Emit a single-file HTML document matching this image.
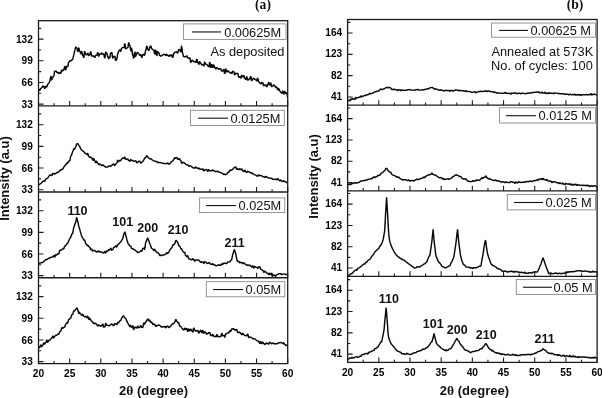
<!DOCTYPE html>
<html lang="en"><head><meta charset="utf-8"><title>XRD patterns</title>
<style>html,body{margin:0;padding:0;background:#fff}svg{display:block;will-change:transform;opacity:0.999}</style></head>
<body>
<svg width="602" height="398" viewBox="0 0 602 398">
<rect width="602" height="398" fill="#fff"/>
<clipPath id="cl"><rect x="38.5" y="20.7" width="249.20" height="342.90"/></clipPath>
<clipPath id="cr"><rect x="347.6" y="19.5" width="249.50" height="342.90"/></clipPath>
<g clip-path="url(#cl)">
<polyline points="38.5,89.9 39.0,89.5 39.5,90.5 40.0,90.2 40.5,88.6 41.0,88.3 41.5,87.9 42.0,87.5 42.5,86.2 43.0,85.9 43.5,86.8 44.0,86.4 44.5,88.4 45.0,88.1 45.5,86.6 46.0,86.2 46.5,87.0 47.0,86.6 47.5,84.8 48.0,84.1 48.5,83.6 49.0,82.8 49.5,81.7 50.0,81.0 50.5,77.1 51.0,76.3 51.5,79.9 52.0,79.1 52.5,77.8 53.0,77.0 53.5,76.2 54.0,75.6 54.5,71.5 55.0,71.3 55.5,71.1 56.0,70.9 56.5,72.2 57.0,72.0 57.5,72.6 58.0,72.4 58.5,73.6 59.0,73.4 59.5,72.7 60.0,72.5 60.5,73.3 61.0,73.0 61.5,70.5 62.0,69.9 62.5,70.9 63.0,70.4 63.5,69.9 64.0,69.3 64.5,66.9 65.0,66.4 65.5,69.8 66.0,69.2 66.5,66.7 67.0,66.1 67.5,66.6 68.0,66.0 68.5,62.4 69.0,61.9 69.5,61.2 70.0,60.7 70.5,60.9 71.0,60.4 71.5,60.3 72.0,59.6 72.5,59.8 73.0,58.2 73.5,55.9 74.0,54.2 74.5,51.4 75.0,49.7 75.5,47.6 76.0,47.1 76.5,47.9 77.0,48.1 77.5,51.2 78.0,51.4 78.5,48.1 79.0,48.4 79.5,50.9 80.0,51.7 80.5,52.9 81.0,53.8 81.5,51.4 82.0,52.2 82.5,55.2 83.0,55.3 83.5,57.4 84.0,57.3 84.5,51.6 85.0,51.6 85.5,54.4 86.0,54.4 86.5,54.7 87.0,54.6 87.5,53.4 88.0,53.3 88.5,55.5 89.0,55.4 89.5,54.4 90.0,54.4 90.5,52.0 91.0,52.1 91.5,56.0 92.0,56.0 92.5,55.8 93.0,55.8 93.5,56.3 94.0,56.3 94.5,57.2 95.0,57.2 95.5,55.4 96.0,55.4 96.5,55.0 97.0,55.1 97.5,52.7 98.0,52.7 98.5,56.0 99.0,56.0 99.5,53.9 100.0,54.0 100.5,54.3 101.0,54.4 101.5,53.0 102.0,53.1 102.5,53.7 103.0,53.7 103.5,54.5 104.0,54.6 104.5,57.7 105.0,57.8 105.5,52.2 106.0,52.3 106.5,53.3 107.0,53.4 107.5,56.3 108.0,56.4 108.5,58.5 109.0,58.5 109.5,57.1 110.0,57.2 110.5,53.2 111.0,53.4 111.5,52.6 112.0,52.8 112.5,57.9 113.0,58.1 113.5,56.5 114.0,56.7 114.5,56.3 115.0,56.5 115.5,60.3 116.0,60.3 116.5,59.8 117.0,58.3 117.5,54.8 118.0,52.9 118.5,51.5 119.0,50.6 119.5,50.4 120.0,49.8 120.5,51.2 121.0,50.7 121.5,48.4 122.0,48.0 122.5,47.7 123.0,47.6 123.5,47.6 124.0,47.6 124.5,44.0 125.0,43.9 125.5,48.8 126.0,48.7 126.5,48.1 127.0,48.1 127.5,47.4 128.0,47.3 128.5,43.0 129.0,43.0 129.5,45.3 130.0,45.6 130.5,49.4 131.0,51.1 131.5,48.2 132.0,49.9 132.5,54.3 133.0,55.7 133.5,58.1 134.0,57.6 134.5,52.9 135.0,52.1 135.5,56.4 136.0,55.6 136.5,53.3 137.0,53.3 137.5,52.3 138.0,52.7 138.5,53.8 139.0,54.1 139.5,55.0 140.0,55.3 140.5,54.7 141.0,55.1 141.5,57.1 142.0,57.4 142.5,54.7 143.0,54.9 143.5,55.1 144.0,54.1 144.5,55.3 145.0,53.9 145.5,50.9 146.0,49.6 146.5,46.8 147.0,46.2 147.5,49.2 148.0,49.3 148.5,50.3 149.0,50.4 149.5,47.3 150.0,47.4 150.5,46.0 151.0,46.1 151.5,48.5 152.0,48.9 152.5,49.3 153.0,49.7 153.5,49.9 154.0,50.3 154.5,53.6 155.0,54.0 155.5,50.3 156.0,50.8 156.5,55.1 157.0,55.5 157.5,51.6 158.0,51.9 158.5,52.9 159.0,52.9 159.5,55.3 160.0,55.3 160.5,56.1 161.0,56.1 161.5,55.7 162.0,55.7 162.5,54.8 163.0,54.8 163.5,54.4 164.0,54.4 164.5,54.5 165.0,54.5 165.5,55.3 166.0,55.5 166.5,54.3 167.0,54.5 167.5,55.4 168.0,55.5 168.5,56.1 169.0,56.2 169.5,55.1 170.0,54.9 170.5,56.0 171.0,55.8 171.5,55.2 172.0,55.0 172.5,57.3 173.0,57.1 173.5,54.0 174.0,53.8 174.5,52.3 175.0,52.1 175.5,52.0 176.0,51.8 176.5,52.2 177.0,51.9 177.5,53.1 178.0,52.5 178.5,49.9 179.0,49.4 179.5,50.1 180.0,49.6 180.5,51.5 181.0,51.8 181.5,46.1 182.0,48.6 182.5,53.1 183.0,54.0 183.5,56.5 184.0,56.5 184.5,56.8 185.0,56.9 185.5,56.7 186.0,56.7 186.5,55.9 187.0,56.0 187.5,57.6 188.0,58.0 188.5,57.9 189.0,58.3 189.5,57.8 190.0,58.2 190.5,62.0 191.0,62.4 191.5,60.4 192.0,60.8 192.5,60.2 193.0,60.6 193.5,61.5 194.0,61.8 194.5,61.8 195.0,61.9 195.5,62.2 196.0,62.3 196.5,59.4 197.0,59.5 197.5,62.2 198.0,62.3 198.5,64.1 199.0,64.2 199.5,61.8 200.0,61.9 200.5,63.3 201.0,63.4 201.5,64.7 202.0,64.8 202.5,64.8 203.0,64.9 203.5,65.7 204.0,65.8 204.5,62.2 205.0,62.4 205.5,64.0 206.0,64.2 206.5,64.4 207.0,64.5 207.5,65.8 208.0,65.9 208.5,66.6 209.0,66.7 209.5,62.5 210.0,62.7 210.5,67.2 211.0,67.3 211.5,64.6 212.0,64.7 212.5,67.3 213.0,67.5 213.5,65.1 214.0,65.2 214.5,67.3 215.0,67.5 215.5,68.8 216.0,68.9 216.5,67.5 217.0,67.7 217.5,68.2 218.0,68.4 218.5,69.2 219.0,69.4 219.5,68.8 220.0,68.9 220.5,68.8 221.0,69.0 221.5,71.0 222.0,71.1 222.5,70.7 223.0,70.9 223.5,69.5 224.0,69.6 224.5,73.3 225.0,73.4 225.5,69.1 226.0,69.2 226.5,71.8 227.0,71.9 227.5,70.7 228.0,70.9 228.5,71.5 229.0,71.7 229.5,72.6 230.0,72.8 230.5,72.5 231.0,72.7 231.5,73.4 232.0,73.6 232.5,71.3 233.0,71.5 233.5,71.7 234.0,71.9 234.5,74.6 235.0,74.8 235.5,73.2 236.0,73.4 236.5,73.5 237.0,73.7 237.5,73.4 238.0,73.6 238.5,77.0 239.0,77.1 239.5,76.7 240.0,76.8 240.5,77.8 241.0,78.0 241.5,75.3 242.0,75.5 242.5,76.7 243.0,76.9 243.5,75.7 244.0,75.8 244.5,78.2 245.0,78.3 245.5,79.4 246.0,79.6 246.5,76.8 247.0,77.0 247.5,80.0 248.0,80.1 248.5,79.6 249.0,79.7 249.5,78.5 250.0,78.7 250.5,76.7 251.0,76.7 251.5,80.6 252.0,80.6 252.5,78.9 253.0,78.9 253.5,78.3 254.0,78.3 254.5,79.5 255.0,79.5 255.5,79.5 256.0,79.5 256.5,80.7 257.0,80.8 257.5,78.2 258.0,78.6 258.5,81.5 259.0,81.9 259.5,82.7 260.0,83.2 260.5,83.5 261.0,83.9 261.5,82.5 262.0,82.9 262.5,82.6 263.0,83.0 263.5,85.5 264.0,85.8 264.5,84.9 265.0,84.9 265.5,85.0 266.0,85.0 266.5,86.6 267.0,86.6 267.5,84.7 268.0,84.8 268.5,82.5 269.0,82.6 269.5,84.8 270.0,84.9 270.5,83.2 271.0,83.3 271.5,86.4 272.0,86.4 272.5,85.9 273.0,86.0 273.5,84.9 274.0,85.0 274.5,85.7 275.0,85.9 275.5,87.2 276.0,87.6 276.5,87.1 277.0,87.5 277.5,89.4 278.0,89.8 278.5,88.6 279.0,89.0 279.5,90.7 280.0,91.1 280.5,92.0 281.0,92.4 281.5,92.9 282.0,93.3 282.5,91.1 283.0,91.5 283.5,93.7 284.0,94.1 284.5,91.3 285.0,91.7 285.5,93.0 286.0,93.4 286.5,92.8 287.0,93.2 287.5,97.1" fill="none" stroke="#0a0a0a" stroke-width="1.45" stroke-linejoin="round"/>
<polyline points="38.5,184.7 39.0,184.3 39.5,184.5 40.0,184.1 40.5,183.6 41.0,183.2 41.5,182.8 42.0,182.4 42.5,181.7 43.0,181.2 43.5,181.2 44.0,180.8 44.5,181.3 45.0,180.8 45.5,179.4 46.0,179.0 46.5,178.8 47.0,178.4 47.5,178.2 48.0,177.8 48.5,176.7 49.0,176.3 49.5,175.3 50.0,175.0 50.5,175.2 51.0,175.0 51.5,175.6 52.0,175.4 52.5,173.7 53.0,173.4 53.5,173.8 54.0,173.5 54.5,174.2 55.0,174.0 55.5,173.6 56.0,173.4 56.5,172.7 57.0,172.5 57.5,172.7 58.0,172.5 58.5,171.9 59.0,171.7 59.5,170.7 60.0,170.5 60.5,170.0 61.0,169.7 61.5,169.7 62.0,169.1 62.5,169.4 63.0,168.8 63.5,167.4 64.0,166.9 64.5,166.1 65.0,165.6 65.5,165.1 66.0,164.5 66.5,163.5 67.0,162.9 67.5,163.2 68.0,162.6 68.5,161.4 69.0,160.9 69.5,161.1 70.0,160.1 70.5,157.1 71.0,155.4 71.5,155.2 72.0,153.6 72.5,151.9 73.0,151.0 73.5,149.4 74.0,148.6 74.5,149.3 75.0,148.5 75.5,147.1 76.0,146.3 76.5,144.5 77.0,143.7 77.5,143.8 78.0,143.7 78.5,144.9 79.0,145.7 79.5,146.1 80.0,147.0 80.5,148.5 81.0,149.2 81.5,149.8 82.0,150.3 82.5,150.7 83.0,151.1 83.5,151.4 84.0,151.8 84.5,152.8 85.0,153.2 85.5,153.3 86.0,153.7 86.5,154.0 87.0,154.5 87.5,153.5 88.0,154.0 88.5,156.0 89.0,156.5 89.5,157.1 90.0,157.6 90.5,157.1 91.0,157.5 91.5,157.7 92.0,158.1 92.5,159.8 93.0,160.2 93.5,158.6 94.0,158.9 94.5,160.5 95.0,160.9 95.5,162.4 96.0,162.7 96.5,161.3 97.0,161.7 97.5,162.9 98.0,163.3 98.5,164.3 99.0,164.7 99.5,163.9 100.0,164.1 100.5,164.7 101.0,164.9 101.5,165.3 102.0,165.6 102.5,164.8 103.0,165.0 103.5,165.7 104.0,165.9 104.5,166.3 105.0,166.5 105.5,167.0 106.0,167.2 106.5,167.0 107.0,167.1 107.5,167.0 108.0,166.8 108.5,166.2 109.0,166.0 109.5,166.1 110.0,165.9 110.5,166.4 111.0,166.2 111.5,165.5 112.0,165.3 112.5,164.5 113.0,164.3 113.5,164.1 114.0,163.9 114.5,165.6 115.0,165.4 115.5,164.2 116.0,163.8 116.5,163.2 117.0,162.8 117.5,160.6 118.0,160.2 118.5,161.6 119.0,161.2 119.5,160.8 120.0,160.4 120.5,160.7 121.0,160.3 121.5,159.2 122.0,158.8 122.5,158.1 123.0,157.9 123.5,158.3 124.0,158.4 124.5,157.2 125.0,157.4 125.5,159.2 126.0,159.4 126.5,159.2 127.0,159.3 127.5,158.9 128.0,159.1 128.5,160.4 129.0,160.6 129.5,161.0 130.0,161.2 130.5,159.6 131.0,159.7 131.5,160.2 132.0,160.3 132.5,160.9 133.0,161.0 133.5,161.0 134.0,161.1 134.5,160.9 135.0,161.0 135.5,160.8 136.0,160.9 136.5,162.6 137.0,162.7 137.5,162.2 138.0,162.3 138.5,161.2 139.0,161.3 139.5,161.3 140.0,161.4 140.5,163.1 141.0,163.1 141.5,162.4 142.0,161.9 142.5,161.8 143.0,161.3 143.5,160.2 144.0,159.6 144.5,158.2 145.0,157.6 145.5,157.7 146.0,157.2 146.5,155.7 147.0,155.9 147.5,156.9 148.0,157.2 148.5,157.9 149.0,158.1 149.5,158.7 150.0,159.0 150.5,158.6 151.0,158.8 151.5,159.4 152.0,159.6 152.5,160.2 153.0,160.4 153.5,160.6 154.0,160.8 154.5,161.1 155.0,161.3 155.5,161.3 156.0,161.5 156.5,161.5 157.0,161.7 157.5,162.5 158.0,162.7 158.5,162.5 159.0,162.7 159.5,162.4 160.0,162.4 160.5,162.6 161.0,162.7 161.5,163.1 162.0,163.1 162.5,163.1 163.0,163.2 163.5,163.4 164.0,163.4 164.5,163.4 165.0,163.5 165.5,163.6 166.0,163.7 166.5,163.5 167.0,163.6 167.5,163.0 168.0,163.1 168.5,164.1 169.0,164.0 169.5,164.0 170.0,163.6 170.5,162.8 171.0,162.4 171.5,161.6 172.0,161.2 172.5,161.1 173.0,160.7 173.5,159.5 174.0,159.1 174.5,158.1 175.0,157.7 175.5,158.3 176.0,158.0 176.5,157.4 177.0,157.7 177.5,159.0 178.0,159.4 178.5,158.8 179.0,159.2 179.5,158.8 180.0,159.2 180.5,160.5 181.0,160.9 181.5,162.8 182.0,163.2 182.5,162.5 183.0,162.7 183.5,162.4 184.0,162.6 184.5,163.1 185.0,163.3 185.5,164.2 186.0,164.4 186.5,164.6 187.0,164.8 187.5,164.8 188.0,165.0 188.5,166.0 189.0,166.2 189.5,165.9 190.0,166.1 190.5,165.9 191.0,166.1 191.5,166.7 192.0,166.9 192.5,167.7 193.0,167.9 193.5,167.7 194.0,167.8 194.5,168.0 195.0,168.1 195.5,167.0 196.0,167.1 196.5,167.7 197.0,167.8 197.5,168.4 198.0,168.5 198.5,168.1 199.0,168.2 199.5,169.0 200.0,169.1 200.5,169.0 201.0,169.1 201.5,169.3 202.0,169.4 202.5,168.9 203.0,169.0 203.5,170.7 204.0,170.8 204.5,170.1 205.0,170.2 205.5,169.5 206.0,169.6 206.5,169.8 207.0,169.9 207.5,171.3 208.0,171.4 208.5,169.8 209.0,169.9 209.5,170.6 210.0,170.7 210.5,170.8 211.0,170.9 211.5,170.4 212.0,170.5 212.5,169.9 213.0,170.0 213.5,170.8 214.0,170.9 214.5,171.0 215.0,171.1 215.5,171.6 216.0,171.7 216.5,171.5 217.0,171.6 217.5,171.2 218.0,171.3 218.5,171.9 219.0,172.0 219.5,172.1 220.0,172.4 220.5,172.5 221.0,172.7 221.5,172.9 222.0,173.2 222.5,173.3 223.0,173.6 223.5,174.4 224.0,174.7 224.5,174.0 225.0,174.3 225.5,174.7 226.0,174.5 226.5,174.4 227.0,174.0 227.5,172.7 228.0,172.3 228.5,172.4 229.0,172.0 229.5,170.7 230.0,170.2 230.5,170.5 231.0,170.1 231.5,170.3 232.0,169.9 232.5,169.5 233.0,169.0 233.5,168.2 234.0,167.8 234.5,167.4 235.0,167.4 235.5,166.9 236.0,167.1 236.5,169.1 237.0,169.3 237.5,168.7 238.0,168.9 238.5,169.5 239.0,169.7 239.5,168.8 240.0,169.0 240.5,169.5 241.0,169.7 241.5,169.0 242.0,169.2 242.5,170.9 243.0,171.1 243.5,171.4 244.0,171.6 244.5,170.2 245.0,170.4 245.5,171.6 246.0,171.8 246.5,172.3 247.0,172.5 247.5,171.3 248.0,171.5 248.5,171.6 249.0,171.7 249.5,172.3 250.0,172.5 250.5,172.8 251.0,173.0 251.5,172.7 252.0,172.9 252.5,173.8 253.0,174.0 253.5,174.2 254.0,174.4 254.5,174.7 255.0,174.9 255.5,175.1 256.0,175.2 256.5,175.8 257.0,176.0 257.5,175.9 258.0,176.1 258.5,174.9 259.0,175.0 259.5,175.6 260.0,175.7 260.5,175.5 261.0,175.7 261.5,175.8 262.0,175.9 262.5,176.5 263.0,176.7 263.5,176.8 264.0,176.9 264.5,177.3 265.0,177.4 265.5,176.4 266.0,176.5 266.5,176.8 267.0,176.9 267.5,177.7 268.0,177.8 268.5,177.9 269.0,178.0 269.5,178.0 270.0,178.1 270.5,178.4 271.0,178.5 271.5,178.2 272.0,178.4 272.5,179.3 273.0,179.4 273.5,179.3 274.0,179.4 274.5,179.3 275.0,179.4 275.5,179.2 276.0,179.3 276.5,179.7 277.0,179.9 277.5,178.6 278.0,178.7 278.5,179.8 279.0,179.9 279.5,180.6 280.0,180.7 280.5,180.0 281.0,180.1 281.5,181.1 282.0,181.3 282.5,181.3 283.0,181.5 283.5,180.7 284.0,180.9 284.5,181.6 285.0,181.7 285.5,181.8 286.0,181.9 286.5,182.5 287.0,182.6 287.5,182.8" fill="none" stroke="#0a0a0a" stroke-width="1.45" stroke-linejoin="round"/>
<polyline points="38.5,264.2 39.0,263.9 39.5,263.2 40.0,262.9 40.5,263.1 41.0,262.8 41.5,262.6 42.0,262.3 42.5,262.5 43.0,262.3 43.5,261.8 44.0,261.5 44.5,260.6 45.0,260.4 45.5,259.7 46.0,259.5 46.5,259.8 47.0,259.5 47.5,259.0 48.0,258.8 48.5,258.3 49.0,258.0 49.5,258.3 50.0,258.0 50.5,257.5 51.0,257.2 51.5,257.3 52.0,257.0 52.5,257.0 53.0,256.7 53.5,255.9 54.0,255.6 54.5,257.0 55.0,256.7 55.5,254.8 56.0,254.6 56.5,255.1 57.0,254.9 57.5,254.0 58.0,253.7 58.5,254.0 59.0,253.5 59.5,250.8 60.0,250.2 60.5,250.6 61.0,250.0 61.5,250.0 62.0,249.4 62.5,249.0 63.0,248.4 63.5,248.9 64.0,248.3 64.5,246.5 65.0,245.9 65.5,245.9 66.0,245.3 66.5,244.4 67.0,243.8 67.5,243.3 68.0,242.5 68.5,241.3 69.0,240.4 69.5,239.0 70.0,238.1 70.5,237.6 71.0,236.6 71.5,234.8 72.0,233.8 72.5,233.7 73.0,231.8 73.5,228.6 74.0,226.7 74.5,225.6 75.0,223.7 75.5,222.9 76.0,221.0 76.5,217.7 77.0,218.2 77.5,220.3 78.0,222.3 78.5,225.0 79.0,227.0 79.5,228.4 80.0,230.4 80.5,231.9 81.0,233.9 81.5,235.8 82.0,236.6 82.5,237.6 83.0,238.4 83.5,239.3 84.0,240.1 84.5,240.0 85.0,240.8 85.5,243.1 86.0,243.9 86.5,244.7 87.0,245.4 87.5,245.0 88.0,245.5 88.5,246.3 89.0,246.8 89.5,247.0 90.0,247.5 90.5,249.2 91.0,249.8 91.5,249.1 92.0,249.6 92.5,251.0 93.0,251.1 93.5,250.5 94.0,250.5 94.5,250.5 95.0,250.5 95.5,251.5 96.0,251.5 96.5,252.0 97.0,252.0 97.5,251.3 98.0,251.4 98.5,251.0 99.0,251.1 99.5,252.1 100.0,252.1 100.5,251.7 101.0,251.8 101.5,252.1 102.0,252.1 102.5,252.9 103.0,253.0 103.5,252.8 104.0,252.8 104.5,251.6 105.0,251.4 105.5,252.9 106.0,252.7 106.5,251.1 107.0,250.9 107.5,251.2 108.0,251.0 108.5,249.9 109.0,249.7 109.5,249.9 110.0,249.7 110.5,248.5 111.0,248.3 111.5,250.2 112.0,250.0 112.5,249.6 113.0,249.4 113.5,247.6 114.0,247.4 114.5,247.0 115.0,246.8 115.5,246.3 116.0,245.8 116.5,247.0 117.0,246.5 117.5,245.0 118.0,244.5 118.5,244.3 119.0,243.8 119.5,243.1 120.0,242.6 120.5,242.2 121.0,241.7 121.5,240.6 122.0,239.9 122.5,239.1 123.0,237.6 123.5,235.2 124.0,233.7 124.5,233.0 125.0,232.1 125.5,234.3 126.0,236.2 126.5,238.1 127.0,240.0 127.5,241.5 128.0,243.4 128.5,244.0 129.0,244.5 129.5,245.6 130.0,246.0 130.5,246.1 131.0,246.5 131.5,248.2 132.0,248.7 132.5,248.7 133.0,249.1 133.5,249.0 134.0,249.5 134.5,249.7 135.0,250.2 135.5,250.5 136.0,250.9 136.5,251.3 137.0,251.7 137.5,252.5 138.0,252.5 138.5,252.5 139.0,252.1 139.5,251.8 140.0,251.5 140.5,251.1 141.0,250.7 141.5,251.3 142.0,250.9 142.5,248.8 143.0,248.4 143.5,248.5 144.0,248.1 144.5,249.4 145.0,247.8 145.5,243.4 146.0,241.8 146.5,241.0 147.0,239.4 147.5,238.2 148.0,238.5 148.5,239.9 149.0,241.3 149.5,242.8 150.0,244.3 150.5,245.3 151.0,246.7 151.5,248.1 152.0,248.5 152.5,248.8 153.0,249.2 153.5,250.1 154.0,250.5 154.5,249.3 155.0,249.8 155.5,250.8 156.0,251.2 156.5,252.2 157.0,252.6 157.5,252.5 158.0,252.9 158.5,253.3 159.0,253.8 159.5,255.2 160.0,255.6 160.5,255.2 161.0,255.0 161.5,255.6 162.0,255.5 162.5,255.4 163.0,255.3 163.5,254.8 164.0,254.7 164.5,254.6 165.0,254.5 165.5,254.0 166.0,253.8 166.5,252.9 167.0,252.7 167.5,253.4 168.0,253.1 168.5,252.6 169.0,251.9 169.5,250.5 170.0,249.7 170.5,249.2 171.0,248.4 171.5,248.1 172.0,247.4 172.5,245.6 173.0,244.8 173.5,245.0 174.0,244.2 174.5,244.1 175.0,243.3 175.5,241.1 176.0,240.3 176.5,240.6 177.0,241.5 177.5,242.2 178.0,243.0 178.5,244.9 179.0,245.8 179.5,245.9 180.0,246.7 180.5,247.9 181.0,248.8 181.5,248.7 182.0,249.6 182.5,250.8 183.0,251.5 183.5,252.1 184.0,252.6 184.5,252.2 185.0,252.8 185.5,255.3 186.0,255.9 186.5,256.1 187.0,256.7 187.5,255.7 188.0,256.3 188.5,258.4 189.0,259.0 189.5,258.9 190.0,259.0 190.5,259.5 191.0,259.6 191.5,259.7 192.0,259.8 192.5,258.7 193.0,258.9 193.5,259.7 194.0,259.8 194.5,261.0 195.0,261.1 195.5,259.9 196.0,260.0 196.5,259.9 197.0,260.0 197.5,259.9 198.0,260.0 198.5,260.2 199.0,260.3 199.5,261.3 200.0,261.4 200.5,262.3 201.0,262.4 201.5,261.8 202.0,261.9 202.5,261.9 203.0,262.0 203.5,263.3 204.0,263.4 204.5,261.8 205.0,261.9 205.5,262.0 206.0,262.1 206.5,263.0 207.0,263.2 207.5,263.3 208.0,263.5 208.5,262.7 209.0,262.8 209.5,262.9 210.0,263.0 210.5,264.1 211.0,264.2 211.5,264.3 212.0,264.5 212.5,263.7 213.0,263.9 213.5,264.7 214.0,264.8 214.5,264.8 215.0,264.9 215.5,265.7 216.0,265.8 216.5,265.6 217.0,265.5 217.5,265.3 218.0,265.2 218.5,264.9 219.0,264.7 219.5,265.4 220.0,265.3 220.5,265.3 221.0,265.2 221.5,264.0 222.0,263.8 222.5,264.4 223.0,264.3 223.5,263.1 224.0,263.0 224.5,263.3 225.0,263.2 225.5,263.4 226.0,263.3 226.5,263.6 227.0,263.4 227.5,262.2 228.0,262.0 228.5,262.0 229.0,261.9 229.5,261.9 230.0,261.7 230.5,260.5 231.0,260.4 231.5,260.0 232.0,258.0 232.5,255.6 233.0,253.6 233.5,252.2 234.0,250.2 234.5,249.7 235.0,251.6 235.5,253.0 236.0,255.0 236.5,258.1 237.0,260.1 237.5,261.4 238.0,261.6 238.5,261.3 239.0,261.5 239.5,262.6 240.0,262.8 240.5,262.3 241.0,262.5 241.5,262.5 242.0,262.7 242.5,263.5 243.0,263.7 243.5,262.7 244.0,262.9 244.5,263.6 245.0,263.8 245.5,264.4 246.0,264.6 246.5,265.3 247.0,265.4 247.5,264.9 248.0,265.0 248.5,265.4 249.0,265.6 249.5,265.1 250.0,265.2 250.5,265.9 251.0,266.1 251.5,267.0 252.0,267.1 252.5,265.8 253.0,266.0 253.5,267.9 254.0,268.0 254.5,266.4 255.0,266.5 255.5,267.0 256.0,267.1 256.5,267.4 257.0,267.5 257.5,268.1 258.0,268.2 258.5,267.0 259.0,267.1 259.5,266.7 260.0,267.0 260.5,269.0 261.0,269.3 261.5,269.7 262.0,270.0 262.5,270.2 263.0,270.5 263.5,272.0 264.0,272.3 264.5,271.1 265.0,271.4 265.5,271.8 266.0,272.1 266.5,272.8 267.0,273.1 267.5,273.1 268.0,273.4 268.5,274.4 269.0,274.7 269.5,273.3 270.0,273.6 270.5,274.4 271.0,274.7 271.5,273.2 272.0,273.4 272.5,275.9 273.0,275.8 273.5,275.0 274.0,274.9 274.5,275.6 275.0,275.5 275.5,276.2 276.0,276.1 276.5,274.7 277.0,274.6 277.5,274.4 278.0,274.3 278.5,274.0 279.0,273.9 279.5,273.7 280.0,273.6 280.5,273.7 281.0,273.7 281.5,274.5 282.0,274.5 282.5,274.1 283.0,274.1 283.5,274.1 284.0,274.1 284.5,274.0 285.0,274.0 285.5,274.6 286.0,274.6 286.5,274.4 287.0,274.4 287.5,274.0" fill="none" stroke="#0a0a0a" stroke-width="1.45" stroke-linejoin="round"/>
<polyline points="38.5,348.4 39.0,348.0 39.5,347.0 40.0,346.6 40.5,345.4 41.0,345.0 41.5,346.7 42.0,346.4 42.5,345.2 43.0,344.8 43.5,343.3 44.0,342.9 44.5,344.1 45.0,343.7 45.5,342.8 46.0,342.4 46.5,340.5 47.0,340.1 47.5,342.3 48.0,341.9 48.5,340.6 49.0,340.3 49.5,340.4 50.0,340.0 50.5,339.2 51.0,338.8 51.5,338.2 52.0,337.9 52.5,336.5 53.0,336.1 53.5,337.8 54.0,337.5 54.5,336.4 55.0,336.1 55.5,335.5 56.0,335.2 56.5,335.4 57.0,335.0 57.5,334.5 58.0,334.2 58.5,334.3 59.0,333.7 59.5,332.2 60.0,331.6 60.5,331.2 61.0,330.6 61.5,328.2 62.0,327.6 62.5,328.3 63.0,327.7 63.5,327.9 64.0,327.3 64.5,327.2 65.0,326.5 65.5,324.5 66.0,323.9 66.5,323.4 67.0,322.6 67.5,323.1 68.0,322.3 68.5,319.9 69.0,319.1 69.5,319.1 70.0,318.3 70.5,318.2 71.0,317.4 71.5,315.2 72.0,314.4 72.5,314.5 73.0,313.7 73.5,311.4 74.0,310.8 74.5,310.9 75.0,310.4 75.5,309.5 76.0,308.9 76.5,308.5 77.0,307.9 77.5,309.4 78.0,310.5 78.5,312.6 79.0,313.6 79.5,312.2 80.0,313.3 80.5,313.7 81.0,314.0 81.5,315.1 82.0,315.3 82.5,314.3 83.0,314.6 83.5,316.0 84.0,316.3 84.5,316.6 85.0,316.8 85.5,316.4 86.0,316.6 86.5,317.5 87.0,317.7 87.5,316.3 88.0,316.6 88.5,318.9 89.0,319.4 89.5,318.1 90.0,318.6 90.5,319.7 91.0,320.2 91.5,320.9 92.0,321.4 92.5,322.0 93.0,322.2 93.5,323.4 94.0,323.6 94.5,323.2 95.0,323.5 95.5,323.3 96.0,323.5 96.5,324.5 97.0,324.7 97.5,325.8 98.0,326.0 98.5,325.0 99.0,325.2 99.5,325.6 100.0,325.6 100.5,326.2 101.0,326.2 101.5,325.4 102.0,325.4 102.5,324.1 103.0,324.1 103.5,327.1 104.0,327.1 104.5,326.9 105.0,326.8 105.5,323.5 106.0,323.5 106.5,325.0 107.0,325.0 107.5,325.3 108.0,325.3 108.5,325.7 109.0,325.7 109.5,325.4 110.0,325.4 110.5,324.6 111.0,324.6 111.5,324.0 112.0,324.0 112.5,324.9 113.0,324.9 113.5,325.6 114.0,325.6 114.5,323.8 115.0,323.8 115.5,323.9 116.0,323.8 116.5,324.6 117.0,324.6 117.5,322.9 118.0,322.2 118.5,322.9 119.0,322.2 119.5,321.4 120.0,320.7 120.5,320.7 121.0,320.0 121.5,318.4 122.0,317.8 122.5,316.9 123.0,316.2 123.5,316.0 124.0,316.2 124.5,317.3 125.0,318.1 125.5,318.4 126.0,319.2 126.5,320.5 127.0,321.3 127.5,322.7 128.0,323.4 128.5,324.4 129.0,325.0 129.5,326.1 130.0,326.7 130.5,325.3 131.0,326.0 131.5,326.9 132.0,327.5 132.5,326.0 133.0,325.9 133.5,329.4 134.0,329.3 134.5,327.2 135.0,327.1 135.5,327.6 136.0,327.6 136.5,327.9 137.0,327.9 137.5,326.3 138.0,326.3 138.5,327.7 139.0,327.6 139.5,327.2 140.0,327.1 140.5,325.6 141.0,325.6 141.5,327.2 142.0,327.2 142.5,327.6 143.0,326.8 143.5,323.6 144.0,322.9 144.5,324.2 145.0,323.5 145.5,322.3 146.0,321.5 146.5,321.0 147.0,320.2 147.5,319.5 148.0,319.0 148.5,320.2 149.0,320.7 149.5,320.0 150.0,320.6 150.5,322.0 151.0,322.5 151.5,322.0 152.0,322.6 152.5,324.0 153.0,324.5 153.5,323.8 154.0,324.0 154.5,324.7 155.0,324.8 155.5,326.4 156.0,326.5 156.5,325.6 157.0,325.8 157.5,325.4 158.0,325.5 158.5,324.8 159.0,325.0 159.5,325.4 160.0,325.5 160.5,326.4 161.0,326.4 161.5,327.0 162.0,327.1 162.5,326.7 163.0,326.7 163.5,326.8 164.0,326.9 164.5,326.5 165.0,326.5 165.5,327.6 166.0,327.7 166.5,326.3 167.0,326.4 167.5,326.3 168.0,326.3 168.5,327.5 169.0,327.5 169.5,326.9 170.0,326.9 170.5,326.3 171.0,325.8 171.5,325.0 172.0,324.4 172.5,324.1 173.0,323.6 173.5,323.7 174.0,323.2 174.5,322.4 175.0,321.8 175.5,320.0 176.0,319.5 176.5,320.7 177.0,321.5 177.5,322.0 178.0,322.8 178.5,322.6 179.0,323.3 179.5,325.5 180.0,326.3 180.5,326.2 181.0,326.9 181.5,327.6 182.0,328.2 182.5,329.2 183.0,329.3 183.5,329.8 184.0,329.9 184.5,328.3 185.0,328.4 185.5,329.4 186.0,329.5 186.5,328.5 187.0,328.6 187.5,331.2 188.0,331.3 188.5,329.1 189.0,329.2 189.5,330.6 190.0,330.7 190.5,329.3 191.0,329.3 191.5,330.6 192.0,330.7 192.5,331.9 193.0,331.9 193.5,328.2 194.0,328.3 194.5,330.1 195.0,330.2 195.5,331.0 196.0,331.1 196.5,330.7 197.0,330.8 197.5,330.5 198.0,330.6 198.5,332.9 199.0,333.0 199.5,331.5 200.0,331.6 200.5,330.3 201.0,330.4 201.5,332.5 202.0,332.6 202.5,330.6 203.0,330.7 203.5,333.1 204.0,333.2 204.5,331.9 205.0,332.0 205.5,332.7 206.0,332.9 206.5,334.0 207.0,334.2 207.5,333.4 208.0,333.6 208.5,332.6 209.0,332.8 209.5,332.7 210.0,332.9 210.5,335.4 211.0,335.6 211.5,335.4 212.0,335.6 212.5,334.5 213.0,334.7 213.5,336.2 214.0,336.4 214.5,336.3 215.0,336.5 215.5,336.8 216.0,336.9 216.5,334.8 217.0,334.7 217.5,336.2 218.0,336.1 218.5,336.9 219.0,336.8 219.5,336.6 220.0,336.5 220.5,336.5 221.0,336.4 221.5,333.6 222.0,333.5 222.5,335.5 223.0,335.4 223.5,335.6 224.0,335.5 224.5,337.1 225.0,337.0 225.5,334.1 226.0,333.7 226.5,333.8 227.0,333.4 227.5,333.2 228.0,332.8 228.5,333.1 229.0,332.6 229.5,331.1 230.0,330.7 230.5,331.6 231.0,331.1 231.5,329.2 232.0,328.7 232.5,329.2 233.0,329.0 233.5,328.7 234.0,329.0 234.5,329.8 235.0,330.1 235.5,329.7 236.0,330.0 236.5,329.6 237.0,329.9 237.5,332.3 238.0,332.6 238.5,332.3 239.0,332.5 239.5,332.1 240.0,332.4 240.5,333.3 241.0,333.6 241.5,334.5 242.0,334.7 242.5,333.3 243.0,333.5 243.5,334.4 244.0,334.6 244.5,335.3 245.0,335.5 245.5,335.6 246.0,335.8 246.5,335.3 247.0,335.5 247.5,334.3 248.0,334.4 248.5,337.3 249.0,337.5 249.5,336.9 250.0,337.1 250.5,337.1 251.0,337.4 251.5,337.5 252.0,337.8 252.5,338.5 253.0,338.8 253.5,338.6 254.0,338.9 254.5,338.7 255.0,339.1 255.5,339.6 256.0,339.9 256.5,340.3 257.0,340.7 257.5,341.0 258.0,341.3 258.5,341.1 259.0,341.5 259.5,343.2 260.0,343.3 260.5,341.8 261.0,341.8 261.5,343.5 262.0,343.5 262.5,342.3 263.0,342.3 263.5,343.5 264.0,343.5 264.5,344.4 265.0,344.5 265.5,343.6 266.0,343.7 266.5,343.0 267.0,343.0 267.5,343.7 268.0,343.8 268.5,343.9 269.0,343.9 269.5,342.3 270.0,342.3 270.5,343.1 271.0,343.1 271.5,343.7 272.0,343.6 272.5,343.1 273.0,343.0 273.5,343.4 274.0,343.4 274.5,343.9 275.0,343.8 275.5,343.8 276.0,343.8 276.5,343.8 277.0,343.8 277.5,343.5 278.0,343.4 278.5,342.7 279.0,342.6 279.5,342.8 280.0,342.8 280.5,342.5 281.0,342.5 281.5,342.7 282.0,343.0 282.5,343.4 283.0,343.7 283.5,342.7 284.0,343.0 284.5,344.4 285.0,344.7 285.5,345.2 286.0,345.5 286.5,345.0 287.0,345.3 287.5,346.4" fill="none" stroke="#0a0a0a" stroke-width="1.45" stroke-linejoin="round"/>
</g>
<g clip-path="url(#cr)">
<polyline points="347.6,100.9 348.1,100.7 348.6,100.4 349.1,100.2 349.6,100.7 350.1,100.6 350.6,99.0 351.1,98.9 351.6,99.4 352.1,99.3 352.6,98.7 353.1,98.5 353.6,99.2 354.1,99.0 354.6,99.4 355.1,99.2 355.6,97.5 356.1,97.4 356.6,98.0 357.1,97.9 357.6,97.9 358.1,97.7 358.6,97.3 359.1,97.2 359.6,97.3 360.1,97.1 360.6,96.1 361.1,96.0 361.6,96.8 362.1,96.6 362.6,96.3 363.1,96.2 363.6,95.9 364.1,95.8 364.6,95.4 365.1,95.3 365.6,95.5 366.1,95.3 366.6,94.8 367.1,94.7 367.6,94.8 368.1,94.6 368.6,94.2 369.1,94.1 369.6,93.4 370.1,93.3 370.6,93.8 371.1,93.6 371.6,93.5 372.1,93.3 372.6,93.2 373.1,93.0 373.6,92.3 374.1,92.1 374.6,92.1 375.1,91.9 375.6,91.9 376.1,91.7 376.6,91.3 377.1,91.1 377.6,91.2 378.1,91.0 378.6,91.0 379.1,90.8 379.6,89.8 380.1,89.6 380.6,89.1 381.1,88.9 381.6,89.6 382.1,89.4 382.6,89.5 383.1,89.3 383.6,88.9 384.1,88.8 384.6,88.6 385.1,88.4 385.6,87.8 386.1,87.6 386.6,87.5 387.1,87.3 387.6,87.8 388.1,87.9 388.6,87.5 389.1,87.6 389.6,87.5 390.1,87.7 390.6,88.1 391.1,88.2 391.6,89.4 392.1,89.6 392.6,89.5 393.1,89.7 393.6,89.1 394.1,89.2 394.6,89.3 395.1,89.5 395.6,89.9 396.1,90.0 396.6,89.7 397.1,89.7 397.6,90.4 398.1,90.4 398.6,90.0 399.1,90.0 399.6,89.7 400.1,89.8 400.6,90.5 401.1,90.5 401.6,90.0 402.1,90.0 402.6,90.3 403.1,90.3 403.6,90.2 404.1,90.3 404.6,90.2 405.1,90.2 405.6,90.4 406.1,90.4 406.6,90.1 407.1,90.0 407.6,89.7 408.1,89.7 408.6,89.6 409.1,89.5 409.6,89.8 410.1,89.8 410.6,89.9 411.1,89.9 411.6,90.1 412.1,90.1 412.6,90.1 413.1,90.1 413.6,90.3 414.1,90.3 414.6,90.1 415.1,90.1 415.6,89.8 416.1,89.8 416.6,89.8 417.1,89.8 417.6,89.4 418.1,89.4 418.6,89.9 419.1,89.9 419.6,90.1 420.1,90.1 420.6,90.1 421.1,90.1 421.6,89.9 422.1,89.9 422.6,89.8 423.1,89.8 423.6,90.0 424.1,89.9 424.6,89.4 425.1,89.3 425.6,89.4 426.1,89.3 426.6,89.1 427.1,89.0 427.6,88.7 428.1,88.6 428.6,88.8 429.1,88.6 429.6,87.9 430.1,87.8 430.6,87.7 431.1,87.6 431.6,87.5 432.1,87.5 432.6,87.7 433.1,87.8 433.6,88.7 434.1,88.8 434.6,89.0 435.1,89.2 435.6,88.8 436.1,88.9 436.6,89.2 437.1,89.4 437.6,89.7 438.1,89.8 438.6,89.9 439.1,90.0 439.6,90.3 440.1,90.4 440.6,89.8 441.1,89.9 441.6,90.1 442.1,90.2 442.6,90.5 443.1,90.6 443.6,90.9 444.1,90.9 444.6,90.5 445.1,90.6 445.6,90.3 446.1,90.3 446.6,90.5 447.1,90.5 447.6,90.5 448.1,90.5 448.6,90.5 449.1,90.5 449.6,91.2 450.1,91.2 450.6,90.5 451.1,90.5 451.6,90.6 452.1,90.5 452.6,91.1 453.1,91.0 453.6,90.7 454.1,90.6 454.6,90.3 455.1,90.2 455.6,89.9 456.1,89.8 456.6,90.1 457.1,90.1 457.6,90.5 458.1,90.6 458.6,90.3 459.1,90.4 459.6,90.7 460.1,90.7 460.6,90.5 461.1,90.5 461.6,90.7 462.1,90.8 462.6,90.7 463.1,90.7 463.6,91.0 464.1,91.1 464.6,91.4 465.1,91.5 465.6,90.7 466.1,90.8 466.6,91.3 467.1,91.3 467.6,91.5 468.1,91.6 468.6,91.4 469.1,91.4 469.6,91.5 470.1,91.6 470.6,92.0 471.1,92.0 471.6,92.4 472.1,92.5 472.6,92.1 473.1,92.1 473.6,92.1 474.1,92.1 474.6,91.6 475.1,91.7 475.6,92.7 476.1,92.7 476.6,92.1 477.1,92.1 477.6,92.0 478.1,91.9 478.6,91.5 479.1,91.5 479.6,91.7 480.1,91.7 480.6,91.3 481.1,91.2 481.6,91.5 482.1,91.5 482.6,91.5 483.1,91.5 483.6,91.3 484.1,91.2 484.6,91.2 485.1,91.2 485.6,90.8 486.1,90.8 486.6,91.6 487.1,91.6 487.6,91.1 488.1,91.2 488.6,90.9 489.1,91.0 489.6,91.5 490.1,91.6 490.6,91.5 491.1,91.6 491.6,91.6 492.1,91.7 492.6,91.9 493.1,92.0 493.6,92.3 494.1,92.4 494.6,92.0 495.1,92.1 495.6,92.5 496.1,92.5 496.6,93.1 497.1,93.2 497.6,93.0 498.1,93.1 498.6,92.9 499.1,93.0 499.6,93.1 500.1,93.2 500.6,93.1 501.1,93.1 501.6,93.2 502.1,93.2 502.6,93.4 503.1,93.4 503.6,93.2 504.1,93.2 504.6,92.5 505.1,92.5 505.6,93.3 506.1,93.3 506.6,93.0 507.1,93.1 507.6,93.5 508.1,93.6 508.6,93.2 509.1,93.2 509.6,93.4 510.1,93.5 510.6,94.1 511.1,94.1 511.6,93.1 512.1,93.2 512.6,93.2 513.1,93.2 513.6,93.1 514.1,93.1 514.6,92.8 515.1,92.8 515.6,93.0 516.1,93.0 516.6,93.7 517.1,93.7 517.6,93.4 518.1,93.5 518.6,93.1 519.1,93.1 519.6,93.2 520.1,93.2 520.6,93.8 521.1,93.8 521.6,93.3 522.1,93.2 522.6,93.3 523.1,93.3 523.6,93.4 524.1,93.4 524.6,93.6 525.1,93.6 525.6,93.7 526.1,93.7 526.6,93.4 527.1,93.3 527.6,93.0 528.1,93.0 528.6,92.9 529.1,92.9 529.6,93.3 530.1,93.3 530.6,93.1 531.1,93.1 531.6,92.5 532.1,92.4 532.6,92.6 533.1,92.6 533.6,92.5 534.1,92.4 534.6,92.3 535.1,92.3 535.6,92.1 536.1,92.1 536.6,91.9 537.1,91.9 537.6,92.2 538.1,92.2 538.6,91.9 539.1,91.9 539.6,92.8 540.1,92.8 540.6,92.7 541.1,92.7 541.6,92.2 542.1,92.2 542.6,93.0 543.1,93.1 543.6,93.0 544.1,93.0 544.6,92.2 545.1,92.2 545.6,93.4 546.1,93.4 546.6,93.1 547.1,93.1 547.6,93.5 548.1,93.6 548.6,92.6 549.1,92.6 549.6,93.2 550.1,93.2 550.6,93.2 551.1,93.3 551.6,93.2 552.1,93.3 552.6,93.3 553.1,93.3 553.6,93.6 554.1,93.6 554.6,92.9 555.1,92.9 555.6,93.0 556.1,93.1 556.6,93.1 557.1,93.1 557.6,93.4 558.1,93.4 558.6,93.4 559.1,93.4 559.6,93.8 560.1,93.8 560.6,93.8 561.1,93.8 561.6,93.8 562.1,93.8 562.6,93.6 563.1,93.7 563.6,93.8 564.1,93.8 564.6,94.3 565.1,94.3 565.6,94.3 566.1,94.3 566.6,94.1 567.1,94.2 567.6,94.1 568.1,94.1 568.6,94.7 569.1,94.7 569.6,94.1 570.1,94.2 570.6,94.6 571.1,94.6 571.6,94.8 572.1,94.8 572.6,94.4 573.1,94.5 573.6,94.8 574.1,94.9 574.6,94.3 575.1,94.3 575.6,95.0 576.1,95.0 576.6,94.8 577.1,94.9 577.6,94.4 578.1,94.4 578.6,95.1 579.1,95.1 579.6,94.6 580.1,94.6 580.6,95.2 581.1,95.2 581.6,94.6 582.1,94.6 582.6,94.7 583.1,94.7 583.6,94.8 584.1,94.8 584.6,94.6 585.1,94.6 585.6,94.8 586.1,94.8 586.6,94.5 587.1,94.5 587.6,94.9 588.1,94.8 588.6,94.6 589.1,94.6 589.6,94.7 590.1,94.7 590.6,93.7 591.1,93.7 591.6,94.9 592.1,94.9 592.6,94.5 593.1,94.5 593.6,94.0 594.1,93.9 594.6,94.5 595.1,94.5 595.6,94.6 596.1,94.6 596.6,94.7 597.1,94.7" fill="none" stroke="#0a0a0a" stroke-width="1.45" stroke-linejoin="round"/>
<polyline points="347.6,184.0 348.1,183.9 348.6,184.7 349.1,184.6 349.6,183.9 350.1,183.8 350.6,184.6 351.1,184.5 351.6,183.5 352.1,183.4 352.6,183.6 353.1,183.5 353.6,183.1 354.1,183.0 354.6,182.6 355.1,182.5 355.6,183.2 356.1,183.1 356.6,182.9 357.1,182.8 357.6,182.9 358.1,182.8 358.6,182.5 359.1,182.4 359.6,181.8 360.1,181.6 360.6,181.1 361.1,181.0 361.6,181.2 362.1,181.0 362.6,180.9 363.1,180.7 363.6,180.5 364.1,180.4 364.6,180.7 365.1,180.5 365.6,180.3 366.1,180.2 366.6,179.8 367.1,179.6 367.6,179.7 368.1,179.5 368.6,179.2 369.1,179.1 369.6,179.1 370.1,178.9 370.6,178.9 371.1,178.8 371.6,178.7 372.1,178.5 372.6,177.7 373.1,177.5 373.6,177.1 374.1,176.9 374.6,177.7 375.1,177.5 375.6,176.9 376.1,176.7 376.6,176.8 377.1,176.6 377.6,175.5 378.1,175.3 378.6,175.6 379.1,175.4 379.6,175.3 380.1,174.9 380.6,173.9 381.1,173.4 381.6,173.2 382.1,172.6 382.6,172.5 383.1,172.0 383.6,171.6 384.1,171.0 384.6,170.7 385.1,170.1 385.6,168.7 386.1,168.4 386.6,168.4 387.1,168.8 387.6,170.0 388.1,170.5 388.6,171.1 389.1,171.6 389.6,171.9 390.1,172.4 390.6,172.3 391.1,172.8 391.6,174.1 392.1,174.5 392.6,174.9 393.1,175.2 393.6,175.4 394.1,175.6 394.6,175.5 395.1,175.8 395.6,176.3 396.1,176.5 396.6,177.0 397.1,177.2 397.6,177.0 398.1,177.3 398.6,177.1 399.1,177.3 399.6,178.3 400.1,178.6 400.6,178.9 401.1,179.2 401.6,179.2 402.1,179.5 402.6,180.0 403.1,180.0 403.6,179.6 404.1,179.6 404.6,179.8 405.1,179.8 405.6,179.8 406.1,179.8 406.6,180.2 407.1,180.2 407.6,180.6 408.1,180.6 408.6,180.0 409.1,180.0 409.6,180.9 410.1,180.9 410.6,180.7 411.1,180.8 411.6,180.5 412.1,180.6 412.6,180.5 413.1,180.6 413.6,181.0 414.1,180.9 414.6,180.1 415.1,180.0 415.6,179.8 416.1,179.7 416.6,179.2 417.1,179.1 417.6,179.5 418.1,179.3 418.6,179.5 419.1,179.4 419.6,178.9 420.1,178.8 420.6,178.6 421.1,178.5 421.6,178.1 422.1,178.0 422.6,178.0 423.1,177.8 423.6,177.1 424.1,176.9 424.6,177.6 425.1,177.3 425.6,176.5 426.1,176.3 426.6,175.8 427.1,175.5 427.6,175.4 428.1,175.1 428.6,174.8 429.1,174.6 429.6,174.9 430.1,174.6 430.6,174.4 431.1,174.2 431.6,173.1 432.1,173.1 432.6,174.1 433.1,174.4 433.6,174.7 434.1,175.0 434.6,174.8 435.1,175.1 435.6,175.1 436.1,175.4 436.6,176.0 437.1,176.3 437.6,176.6 438.1,176.9 438.6,177.5 439.1,177.7 439.6,177.7 440.1,177.8 440.6,177.4 441.1,177.6 441.6,178.5 442.1,178.7 442.6,178.2 443.1,178.4 443.6,179.4 444.1,179.6 444.6,179.0 445.1,179.1 445.6,179.4 446.1,179.3 446.6,179.1 447.1,179.0 447.6,178.9 448.1,178.8 448.6,179.3 449.1,179.2 449.6,178.9 450.1,178.8 450.6,178.5 451.1,178.4 451.6,178.0 452.1,177.7 452.6,176.7 453.1,176.4 453.6,176.4 454.1,176.1 454.6,175.7 455.1,175.4 455.6,174.9 456.1,174.7 456.6,175.2 457.1,175.4 457.6,175.3 458.1,175.5 458.6,175.8 459.1,176.1 459.6,176.3 460.1,176.6 460.6,176.5 461.1,176.8 461.6,178.0 462.1,178.2 462.6,178.7 463.1,179.0 463.6,178.8 464.1,179.0 464.6,178.9 465.1,179.1 465.6,178.7 466.1,178.9 466.6,180.2 467.1,180.4 467.6,181.0 468.1,181.2 468.6,181.1 469.1,181.3 469.6,181.6 470.1,181.5 470.6,181.7 471.1,181.6 471.6,181.5 472.1,181.4 472.6,180.8 473.1,180.8 473.6,181.3 474.1,181.2 474.6,181.1 475.1,181.0 475.6,180.2 476.1,180.1 476.6,180.5 477.1,180.4 477.6,180.0 478.1,180.0 478.6,180.4 479.1,180.2 479.6,180.2 480.1,179.9 480.6,179.0 481.1,178.7 481.6,178.0 482.1,177.7 482.6,178.5 483.1,178.2 483.6,177.6 484.1,177.3 484.6,177.3 485.1,177.1 485.6,176.0 486.1,176.2 486.6,177.3 487.1,177.6 487.6,178.3 488.1,178.5 488.6,178.8 489.1,179.1 489.6,178.6 490.1,178.8 490.6,179.3 491.1,179.6 491.6,179.6 492.1,179.8 492.6,180.3 493.1,180.3 493.6,180.5 494.1,180.5 494.6,180.3 495.1,180.4 495.6,180.0 496.1,180.1 496.6,180.9 497.1,181.0 497.6,180.7 498.1,180.8 498.6,181.2 499.1,181.3 499.6,181.3 500.1,181.4 500.6,182.0 501.1,182.0 501.6,182.0 502.1,182.1 502.6,181.6 503.1,181.7 503.6,182.1 504.1,182.1 504.6,182.6 505.1,182.7 505.6,181.9 506.1,181.9 506.6,182.2 507.1,182.2 507.6,182.5 508.1,182.5 508.6,182.6 509.1,182.6 509.6,182.3 510.1,182.4 510.6,181.7 511.1,181.7 511.6,181.8 512.1,181.8 512.6,182.3 513.1,182.3 513.6,182.4 514.1,182.4 514.6,183.2 515.1,183.2 515.6,182.0 516.1,182.0 516.6,182.7 517.1,182.8 517.6,182.6 518.1,182.7 518.6,181.8 519.1,181.8 519.6,182.1 520.1,182.2 520.6,182.5 521.1,182.5 521.6,182.3 522.1,182.3 522.6,182.4 523.1,182.3 523.6,182.4 524.1,182.3 524.6,181.8 525.1,181.7 525.6,182.1 526.1,182.0 526.6,181.6 527.1,181.5 527.6,181.4 528.1,181.4 528.6,181.7 529.1,181.6 529.6,181.1 530.1,181.0 530.6,181.3 531.1,181.2 531.6,181.6 532.1,181.5 532.6,180.9 533.1,180.8 533.6,180.7 534.1,180.6 534.6,180.8 535.1,180.7 535.6,180.3 536.1,180.1 536.6,180.5 537.1,180.4 537.6,179.5 538.1,179.3 538.6,179.9 539.1,179.7 539.6,179.2 540.1,179.1 540.6,178.9 541.1,178.7 541.6,179.5 542.1,179.4 542.6,178.4 543.1,178.4 543.6,179.5 544.1,179.7 544.6,179.4 545.1,179.6 545.6,180.1 546.1,180.2 546.6,179.5 547.1,179.7 547.6,180.6 548.1,180.8 548.6,181.1 549.1,181.2 549.6,180.9 550.1,181.0 550.6,181.2 551.1,181.3 551.6,182.4 552.1,182.5 552.6,181.8 553.1,181.9 553.6,181.7 554.1,181.8 554.6,181.8 555.1,181.9 555.6,182.4 556.1,182.5 556.6,182.5 557.1,182.6 557.6,182.7 558.1,182.7 558.6,183.4 559.1,183.5 559.6,182.8 560.1,182.9 560.6,183.3 561.1,183.4 561.6,183.8 562.1,183.9 562.6,183.1 563.1,183.2 563.6,184.0 564.1,184.1 564.6,184.5 565.1,184.6 565.6,183.5 566.1,183.6 566.6,183.8 567.1,183.9 567.6,184.0 568.1,184.0 568.6,183.8 569.1,183.8 569.6,184.6 570.1,184.7 570.6,183.9 571.1,183.9 571.6,184.8 572.1,184.8 572.6,185.2 573.1,185.2 573.6,184.2 574.1,184.2 574.6,184.7 575.1,184.7 575.6,184.2 576.1,184.2 576.6,185.2 577.1,185.3 577.6,184.8 578.1,184.8 578.6,185.0 579.1,185.0 579.6,185.2 580.1,185.2 580.6,185.4 581.1,185.5 581.6,185.2 582.1,185.2 582.6,185.4 583.1,185.4 583.6,185.3 584.1,185.3 584.6,185.6 585.1,185.6 585.6,185.2 586.1,185.2 586.6,185.7 587.1,185.7 587.6,185.1 588.1,185.1 588.6,185.7 589.1,185.7 589.6,186.6 590.1,186.6 590.6,186.0 591.1,186.1 591.6,185.6 592.1,185.7 592.6,186.2 593.1,186.3 593.6,185.9 594.1,185.9 594.6,185.7 595.1,185.8 595.6,186.1 596.1,186.2 596.6,186.7 597.1,186.8" fill="none" stroke="#0a0a0a" stroke-width="1.45" stroke-linejoin="round"/>
<polyline points="347.6,276.7 348.1,276.3 348.6,275.8 349.1,275.4 349.6,274.8 350.1,274.4 350.6,274.0 351.1,273.6 351.6,273.8 352.1,273.5 352.6,272.8 353.1,272.4 353.6,271.7 354.1,271.3 354.6,270.7 355.1,270.3 355.6,270.1 356.1,269.7 356.6,270.3 357.1,269.9 357.6,268.6 358.1,268.2 358.6,268.1 359.1,267.8 359.6,267.5 360.1,267.1 360.6,266.6 361.1,266.3 361.6,265.9 362.1,265.5 362.6,264.9 363.1,264.5 363.6,264.2 364.1,263.9 364.6,264.1 365.1,263.7 365.6,262.6 366.1,262.2 366.6,262.2 367.1,261.7 367.6,260.7 368.1,260.2 368.6,260.1 369.1,259.7 369.6,259.4 370.1,258.9 370.6,258.4 371.1,257.7 371.6,256.5 372.1,255.8 372.6,255.5 373.1,254.8 373.6,254.0 374.1,253.3 374.6,252.3 375.1,251.6 375.6,251.3 376.1,250.9 376.6,250.1 377.1,249.7 377.6,249.3 378.1,248.8 378.6,248.6 379.1,247.9 379.6,246.5 380.1,245.8 380.6,245.7 381.1,245.0 381.6,243.7 382.1,242.5 382.6,241.2 383.1,239.7 383.6,237.1 384.1,234.2 384.6,231.7 385.1,223.4 385.6,213.5 386.1,205.4 386.6,197.7 387.1,206.1 387.6,213.8 388.1,223.0 388.6,232.2 389.1,237.3 389.6,240.2 390.1,242.4 390.6,244.1 391.1,245.4 391.6,246.7 392.1,248.0 392.6,248.7 393.1,249.7 393.6,250.9 394.1,251.8 394.6,252.5 395.1,253.3 395.6,254.3 396.1,254.9 396.6,255.2 397.1,255.7 397.6,256.4 398.1,256.9 398.6,256.9 399.1,257.3 399.6,257.7 400.1,258.2 400.6,258.3 401.1,258.5 401.6,259.4 402.1,259.7 402.6,259.4 403.1,259.6 403.6,259.8 404.1,260.2 404.6,260.6 405.1,261.0 405.6,261.5 406.1,261.9 406.6,262.1 407.1,262.4 407.6,263.1 408.1,263.4 408.6,263.7 409.1,264.1 409.6,264.5 410.1,264.8 410.6,265.1 411.1,265.4 411.6,266.1 412.1,266.4 412.6,266.7 413.1,267.0 413.6,267.5 414.1,267.9 414.6,268.0 415.1,267.9 415.6,267.8 416.1,267.7 416.6,266.9 417.1,266.8 417.6,267.1 418.1,267.0 418.6,266.8 419.1,266.7 419.6,267.0 420.1,266.9 420.6,266.2 421.1,265.9 421.6,265.7 422.1,265.4 422.6,265.1 423.1,264.7 423.6,264.3 424.1,264.0 424.6,263.9 425.1,263.6 425.6,262.8 426.1,262.5 426.6,262.4 427.1,261.3 427.6,259.6 428.1,258.5 428.6,257.3 429.1,256.2 429.6,255.8 430.1,254.2 430.6,250.4 431.1,246.8 431.6,243.3 432.1,239.1 432.6,234.4 433.1,229.8 433.6,235.3 434.1,240.7 434.6,245.1 435.1,249.0 435.6,253.6 436.1,256.4 436.6,257.2 437.1,258.4 437.6,259.9 438.1,261.1 438.6,262.0 439.1,262.7 439.6,262.8 440.1,263.3 440.6,264.1 441.1,264.7 441.6,265.9 442.1,266.4 442.6,266.6 443.1,266.8 443.6,267.0 444.1,267.2 444.6,267.6 445.1,267.8 445.6,267.9 446.1,267.6 446.6,267.3 447.1,267.0 447.6,266.8 448.1,266.5 448.6,266.2 449.1,265.9 449.6,266.0 450.1,265.3 450.6,263.9 451.1,262.8 451.6,262.1 452.1,261.0 452.6,259.9 453.1,258.8 453.6,257.7 454.1,255.3 454.6,252.0 455.1,248.8 455.6,245.4 456.1,241.9 456.6,237.2 457.1,232.5 457.6,229.7 458.1,235.2 458.6,240.4 459.1,244.8 459.6,248.7 460.1,252.4 460.6,255.9 461.1,257.8 461.6,259.8 462.1,261.3 462.6,262.5 463.1,263.9 463.6,264.6 464.1,265.0 464.6,265.1 465.1,265.5 465.6,266.4 466.1,266.9 466.6,266.9 467.1,267.1 467.6,267.1 468.1,267.2 468.6,267.3 469.1,267.5 469.6,267.3 470.1,267.4 470.6,268.1 471.1,268.1 471.6,267.9 472.1,267.8 472.6,268.5 473.1,268.4 473.6,267.7 474.1,267.7 474.6,267.6 475.1,267.6 475.6,267.9 476.1,267.9 476.6,267.5 477.1,267.4 477.6,267.2 478.1,267.0 478.6,266.6 479.1,266.4 479.6,266.1 480.1,265.9 480.6,266.2 481.1,264.9 481.6,262.0 482.1,259.2 482.6,256.5 483.1,253.7 483.6,250.2 484.1,247.1 484.6,244.2 485.1,241.1 485.6,240.5 486.1,243.9 486.6,247.8 487.1,251.2 487.6,254.1 488.1,255.4 488.6,257.2 489.1,258.5 489.6,259.9 490.1,261.2 490.6,262.6 491.1,263.9 491.6,264.4 492.1,264.7 492.6,265.5 493.1,265.8 493.6,265.7 494.1,266.0 494.6,266.3 495.1,266.6 495.6,266.8 496.1,267.1 496.6,268.0 497.1,268.3 497.6,268.7 498.1,268.9 498.6,268.6 499.1,268.9 499.6,269.1 500.1,269.3 500.6,269.7 501.1,269.9 501.6,270.9 502.1,271.1 502.6,271.0 503.1,271.3 503.6,271.1 504.1,271.3 504.6,271.0 505.1,271.0 505.6,271.3 506.1,271.3 506.6,271.8 507.1,271.8 507.6,272.0 508.1,272.0 508.6,271.5 509.1,271.5 509.6,271.4 510.1,271.4 510.6,271.5 511.1,271.5 511.6,271.2 512.1,271.2 512.6,271.9 513.1,272.0 513.6,271.5 514.1,271.5 514.6,272.0 515.1,272.1 515.6,271.4 516.1,271.5 516.6,271.6 517.1,271.7 517.6,272.1 518.1,272.2 518.6,272.0 519.1,272.0 519.6,272.4 520.1,272.5 520.6,272.4 521.1,272.4 521.6,272.2 522.1,272.2 522.6,272.7 523.1,272.8 523.6,272.9 524.1,272.9 524.6,272.3 525.1,272.3 525.6,273.3 526.1,273.4 526.6,273.1 527.1,273.1 527.6,273.3 528.1,273.3 528.6,272.7 529.1,272.7 529.6,272.9 530.1,272.8 530.6,272.8 531.1,272.8 531.6,273.0 532.1,273.0 532.6,272.2 533.1,272.2 533.6,272.2 534.1,272.2 534.6,271.8 535.1,271.7 535.6,272.1 536.1,272.0 536.6,272.1 537.1,272.0 537.6,271.4 538.1,270.6 538.6,269.5 539.1,268.2 539.6,267.1 540.1,265.8 540.6,264.7 541.1,263.4 541.6,261.8 542.1,260.4 542.6,258.8 543.1,258.0 543.6,259.3 544.1,260.7 544.6,262.2 545.1,263.7 545.6,265.2 546.1,266.5 546.6,268.0 547.1,269.2 547.6,270.4 548.1,271.7 548.6,273.4 549.1,273.6 549.6,273.3 550.1,273.3 550.6,273.0 551.1,273.0 551.6,273.7 552.1,273.7 552.6,273.6 553.1,273.6 553.6,273.4 554.1,273.5 554.6,273.3 555.1,273.3 555.6,273.0 556.1,273.0 556.6,273.3 557.1,273.3 557.6,273.8 558.1,273.8 558.6,273.4 559.1,273.4 559.6,273.3 560.1,273.4 560.6,273.7 561.1,273.6 561.6,273.5 562.1,273.4 562.6,273.4 563.1,273.3 563.6,273.2 564.1,273.1 564.6,273.2 565.1,273.1 565.6,272.4 566.1,272.3 566.6,272.7 567.1,272.5 567.6,271.9 568.1,271.8 568.6,272.2 569.1,272.1 569.6,271.8 570.1,271.8 570.6,271.8 571.1,271.7 571.6,271.8 572.1,271.8 572.6,271.5 573.1,271.4 573.6,271.7 574.1,271.6 574.6,271.5 575.1,271.5 575.6,271.2 576.1,271.2 576.6,271.0 577.1,270.9 577.6,270.8 578.1,270.8 578.6,270.8 579.1,270.7 579.6,270.8 580.1,270.7 580.6,270.7 581.1,270.7 581.6,271.5 582.1,271.6 582.6,271.1 583.1,271.1 583.6,271.2 584.1,271.3 584.6,270.9 585.1,271.0 585.6,271.1 586.1,271.2 586.6,271.3 587.1,271.4 587.6,271.6 588.1,271.6 588.6,271.4 589.1,271.5 589.6,272.2 590.1,272.2 590.6,271.7 591.1,271.7 591.6,272.1 592.1,272.1 592.6,271.2 593.1,271.2 593.6,271.8 594.1,271.8 594.6,271.9 595.1,271.9 595.6,271.8 596.1,271.8 596.6,272.0 597.1,272.0" fill="none" stroke="#0a0a0a" stroke-width="1.45" stroke-linejoin="round"/>
<polyline points="347.6,359.2 348.1,359.1 348.6,358.9 349.1,358.8 349.6,358.1 350.1,357.9 350.6,358.2 351.1,358.1 351.6,357.5 352.1,357.3 352.6,358.1 353.1,358.0 353.6,357.8 354.1,357.7 354.6,357.4 355.1,357.3 355.6,357.0 356.1,356.9 356.6,356.8 357.1,356.7 357.6,357.3 358.1,357.2 358.6,357.1 359.1,356.9 359.6,356.3 360.1,356.1 360.6,356.3 361.1,356.1 361.6,355.0 362.1,354.8 362.6,354.5 363.1,354.3 363.6,354.5 364.1,354.3 364.6,354.0 365.1,353.8 365.6,353.7 366.1,353.5 366.6,353.5 367.1,353.3 367.6,354.0 368.1,353.7 368.6,352.4 369.1,352.2 369.6,352.2 370.1,352.0 370.6,351.9 371.1,351.7 371.6,351.2 372.1,350.9 372.6,350.9 373.1,350.5 373.6,350.4 374.1,350.1 374.6,348.9 375.1,348.5 375.6,348.6 376.1,348.3 376.6,347.8 377.1,347.5 377.6,347.4 378.1,346.7 378.6,345.5 379.1,344.8 379.6,344.0 380.1,343.3 380.6,342.4 381.1,341.7 381.6,341.9 382.1,339.8 382.6,337.2 383.1,334.8 383.6,332.3 384.1,329.3 384.6,323.3 385.1,318.0 385.6,313.4 386.1,308.1 386.6,312.6 387.1,319.7 387.6,326.6 388.1,333.7 388.6,337.4 389.1,338.6 389.6,340.3 390.1,341.4 390.6,342.6 391.1,343.7 391.6,344.3 392.1,344.9 392.6,345.6 393.1,346.2 393.6,346.5 394.1,347.1 394.6,347.9 395.1,348.5 395.6,349.1 396.1,349.7 396.6,350.4 397.1,350.9 397.6,350.9 398.1,351.2 398.6,351.4 399.1,351.7 399.6,352.0 400.1,352.2 400.6,352.3 401.1,352.6 401.6,353.7 402.1,354.0 402.6,353.7 403.1,353.7 403.6,353.7 404.1,353.7 404.6,354.3 405.1,354.3 405.6,354.1 406.1,354.1 406.6,353.3 407.1,353.3 407.6,354.0 408.1,354.0 408.6,354.1 409.1,354.1 409.6,354.5 410.1,354.5 410.6,354.3 411.1,354.4 411.6,354.2 412.1,354.0 412.6,353.3 413.1,353.1 413.6,353.0 414.1,352.8 414.6,352.9 415.1,352.8 415.6,352.6 416.1,352.5 416.6,351.8 417.1,351.6 417.6,351.6 418.1,351.4 418.6,351.2 419.1,351.0 419.6,351.0 420.1,350.8 420.6,350.7 421.1,350.5 421.6,350.0 422.1,349.8 422.6,349.2 423.1,349.0 423.6,349.5 424.1,349.2 424.6,349.1 425.1,348.8 425.6,348.1 426.1,347.8 426.6,347.9 427.1,347.7 427.6,347.1 428.1,346.5 428.6,345.9 429.1,345.3 429.6,344.6 430.1,344.0 430.6,343.0 431.1,342.4 431.6,342.1 432.1,341.1 432.6,339.5 433.1,337.8 433.6,335.5 434.1,333.8 434.6,335.9 435.1,338.0 435.6,340.1 436.1,342.1 436.6,343.5 437.1,344.1 437.6,344.8 438.1,345.4 438.6,345.6 439.1,346.2 439.6,346.5 440.1,347.1 440.6,347.6 441.1,348.2 441.6,348.4 442.1,348.6 442.6,349.2 443.1,349.4 443.6,349.6 444.1,349.9 444.6,350.3 445.1,350.6 445.6,350.0 446.1,349.7 446.6,350.8 447.1,350.6 447.6,350.4 448.1,350.2 448.6,349.3 449.1,349.1 449.6,349.1 450.1,348.9 450.6,348.6 451.1,348.4 451.6,347.6 452.1,346.7 452.6,345.8 453.1,344.9 453.6,344.1 454.1,343.3 454.6,342.3 455.1,341.3 455.6,340.6 456.1,339.6 456.6,338.6 457.1,338.7 457.6,339.6 458.1,340.4 458.6,340.9 459.1,341.7 459.6,342.8 460.1,343.6 460.6,344.3 461.1,345.0 461.6,345.8 462.1,346.4 462.6,346.5 463.1,347.2 463.6,348.2 464.1,348.9 464.6,349.7 465.1,350.0 465.6,350.1 466.1,350.4 466.6,350.3 467.1,350.5 467.6,350.8 468.1,351.0 468.6,351.3 469.1,351.6 469.6,352.1 470.1,352.3 470.6,352.6 471.1,352.5 471.6,351.9 472.1,351.8 472.6,351.5 473.1,351.4 473.6,351.6 474.1,351.5 474.6,351.4 475.1,351.3 475.6,350.8 476.1,350.7 476.6,350.7 477.1,350.5 477.6,350.6 478.1,350.5 478.6,350.4 479.1,350.2 479.6,349.4 480.1,349.1 480.6,348.9 481.1,348.7 481.6,348.9 482.1,348.6 482.6,347.6 483.1,346.9 483.6,346.6 484.1,345.9 484.6,345.2 485.1,344.5 485.6,343.7 486.1,343.8 486.6,344.4 487.1,345.2 487.6,346.2 488.1,347.0 488.6,347.7 489.1,348.5 489.6,349.2 490.1,349.5 490.6,349.4 491.1,349.7 491.6,350.6 492.1,351.0 492.6,350.4 493.1,350.8 493.6,351.5 494.1,351.8 494.6,352.2 495.1,352.4 495.6,352.9 496.1,353.0 496.6,352.6 497.1,352.7 497.6,353.2 498.1,353.3 498.6,353.1 499.1,353.2 499.6,353.7 500.1,353.8 500.6,354.3 501.1,354.4 501.6,353.8 502.1,354.0 502.6,354.3 503.1,354.4 503.6,354.2 504.1,354.2 504.6,354.8 505.1,354.8 505.6,354.9 506.1,354.9 506.6,354.6 507.1,354.6 507.6,354.3 508.1,354.3 508.6,354.8 509.1,354.8 509.6,355.1 510.1,355.1 510.6,355.1 511.1,355.1 511.6,355.0 512.1,355.1 512.6,354.3 513.1,354.3 513.6,354.7 514.1,354.7 514.6,355.3 515.1,355.4 515.6,354.6 516.1,354.6 516.6,355.3 517.1,355.3 517.6,355.6 518.1,355.6 518.6,355.3 519.1,355.3 519.6,355.4 520.1,355.4 520.6,354.9 521.1,354.9 521.6,354.6 522.1,354.5 522.6,354.8 523.1,354.8 523.6,354.7 524.1,354.7 524.6,354.7 525.1,354.6 525.6,354.8 526.1,354.8 526.6,354.5 527.1,354.5 527.6,354.5 528.1,354.5 528.6,354.5 529.1,354.5 529.6,354.3 530.1,354.3 530.6,354.8 531.1,354.7 531.6,354.3 532.1,354.2 532.6,354.1 533.1,354.0 533.6,353.8 534.1,353.6 534.6,353.3 535.1,353.0 535.6,353.4 536.1,353.2 536.6,352.6 537.1,352.4 537.6,351.8 538.1,351.6 538.6,351.6 539.1,351.4 539.6,351.3 540.1,351.1 540.6,350.7 541.1,350.3 541.6,350.5 542.1,350.2 542.6,349.2 543.1,348.9 543.6,349.2 544.1,349.7 544.6,350.0 545.1,350.4 545.6,350.5 546.1,350.9 546.6,351.7 547.1,352.1 547.6,352.5 548.1,352.9 548.6,353.2 549.1,353.3 549.6,353.1 550.1,353.2 550.6,353.6 551.1,353.7 551.6,353.2 552.1,353.3 552.6,353.6 553.1,353.7 553.6,354.4 554.1,354.5 554.6,354.6 555.1,354.8 555.6,354.6 556.1,354.7 556.6,354.6 557.1,354.7 557.6,355.3 558.1,355.4 558.6,354.6 559.1,354.7 559.6,355.2 560.1,355.3 560.6,355.8 561.1,355.9 561.6,355.9 562.1,355.9 562.6,355.4 563.1,355.5 563.6,355.3 564.1,355.3 564.6,356.3 565.1,356.4 565.6,356.0 566.1,356.1 566.6,355.8 567.1,355.8 567.6,356.1 568.1,356.2 568.6,356.5 569.1,356.5 569.6,355.5 570.1,355.5 570.6,356.7 571.1,356.7 571.6,356.6 572.1,356.7 572.6,355.9 573.1,355.9 573.6,356.8 574.1,356.8 574.6,356.1 575.1,356.1 575.6,357.0 576.1,357.1 576.6,356.9 577.1,356.9 577.6,357.5 578.1,357.5 578.6,356.7 579.1,356.7 579.6,357.0 580.1,357.0 580.6,357.3 581.1,357.3 581.6,356.9 582.1,356.9 582.6,356.9 583.1,356.9 583.6,357.0 584.1,357.1 584.6,357.2 585.1,357.2 585.6,356.9 586.1,356.9 586.6,357.4 587.1,357.5 587.6,357.5 588.1,357.5 588.6,357.4 589.1,357.4 589.6,357.9 590.1,358.0 590.6,357.4 591.1,357.4 591.6,357.9 592.1,358.0 592.6,357.4 593.1,357.4 593.6,357.9 594.1,357.9 594.6,357.1 595.1,357.1 595.6,357.8 596.1,357.8 596.6,357.7 597.1,357.7" fill="none" stroke="#0a0a0a" stroke-width="1.45" stroke-linejoin="round"/>
</g>
<rect x="38.5" y="20.7" width="249.20" height="342.90" fill="none" stroke="#1c1c1c" stroke-width="1.3"/>
<line x1="38.5" y1="105.9" x2="287.7" y2="105.9" stroke="#1c1c1c" stroke-width="1.3"/>
<line x1="38.5" y1="192.0" x2="287.7" y2="192.0" stroke="#1c1c1c" stroke-width="1.3"/>
<line x1="38.5" y1="277.75" x2="287.7" y2="277.75" stroke="#1c1c1c" stroke-width="1.3"/>
<text x="32.8" y="107.65" text-anchor="end" font-family='"Liberation Sans", Arial, Helvetica, sans-serif' font-weight="bold" font-size="10.1">33</text>
<text x="32.8" y="86.00" text-anchor="end" font-family='"Liberation Sans", Arial, Helvetica, sans-serif' font-weight="bold" font-size="10.1">66</text>
<text x="32.8" y="64.35" text-anchor="end" font-family='"Liberation Sans", Arial, Helvetica, sans-serif' font-weight="bold" font-size="10.1">99</text>
<text x="32.8" y="42.70" text-anchor="end" font-family='"Liberation Sans", Arial, Helvetica, sans-serif' font-weight="bold" font-size="10.1">132</text>
<text x="32.8" y="193.25" text-anchor="end" font-family='"Liberation Sans", Arial, Helvetica, sans-serif' font-weight="bold" font-size="10.1">33</text>
<text x="32.8" y="171.60" text-anchor="end" font-family='"Liberation Sans", Arial, Helvetica, sans-serif' font-weight="bold" font-size="10.1">66</text>
<text x="32.8" y="149.95" text-anchor="end" font-family='"Liberation Sans", Arial, Helvetica, sans-serif' font-weight="bold" font-size="10.1">99</text>
<text x="32.8" y="128.30" text-anchor="end" font-family='"Liberation Sans", Arial, Helvetica, sans-serif' font-weight="bold" font-size="10.1">132</text>
<text x="32.8" y="279.20" text-anchor="end" font-family='"Liberation Sans", Arial, Helvetica, sans-serif' font-weight="bold" font-size="10.1">33</text>
<text x="32.8" y="257.55" text-anchor="end" font-family='"Liberation Sans", Arial, Helvetica, sans-serif' font-weight="bold" font-size="10.1">66</text>
<text x="32.8" y="235.90" text-anchor="end" font-family='"Liberation Sans", Arial, Helvetica, sans-serif' font-weight="bold" font-size="10.1">99</text>
<text x="32.8" y="214.25" text-anchor="end" font-family='"Liberation Sans", Arial, Helvetica, sans-serif' font-weight="bold" font-size="10.1">132</text>
<text x="32.8" y="365.15" text-anchor="end" font-family='"Liberation Sans", Arial, Helvetica, sans-serif' font-weight="bold" font-size="10.1">33</text>
<text x="32.8" y="343.50" text-anchor="end" font-family='"Liberation Sans", Arial, Helvetica, sans-serif' font-weight="bold" font-size="10.1">66</text>
<text x="32.8" y="321.85" text-anchor="end" font-family='"Liberation Sans", Arial, Helvetica, sans-serif' font-weight="bold" font-size="10.1">99</text>
<text x="32.8" y="300.20" text-anchor="end" font-family='"Liberation Sans", Arial, Helvetica, sans-serif' font-weight="bold" font-size="10.1">132</text>
<path d="M38.50 105.9v-5.0 M54.08 105.9v-2.7 M69.65 105.9v-5.0 M85.22 105.9v-2.7 M100.80 105.9v-5.0 M116.38 105.9v-2.7 M131.95 105.9v-5.0 M147.53 105.9v-2.7 M163.10 105.9v-5.0 M178.68 105.9v-2.7 M194.25 105.9v-5.0 M209.82 105.9v-2.7 M225.40 105.9v-5.0 M240.97 105.9v-2.7 M256.55 105.9v-5.0 M272.12 105.9v-2.7 M287.70 105.9v-5.0 M38.5 104.10h5.0 M38.5 93.27h2.7 M38.5 82.45h5.0 M38.5 71.62h2.7 M38.5 60.80h5.0 M38.5 49.97h2.7 M38.5 39.15h5.0 M38.5 28.33h2.7 M38.50 192.0v-5.0 M54.08 192.0v-2.7 M69.65 192.0v-5.0 M85.22 192.0v-2.7 M100.80 192.0v-5.0 M116.38 192.0v-2.7 M131.95 192.0v-5.0 M147.53 192.0v-2.7 M163.10 192.0v-5.0 M178.68 192.0v-2.7 M194.25 192.0v-5.0 M209.82 192.0v-2.7 M225.40 192.0v-5.0 M240.97 192.0v-2.7 M256.55 192.0v-5.0 M272.12 192.0v-2.7 M287.70 192.0v-5.0 M38.5 189.70h5.0 M38.5 178.88h2.7 M38.5 168.05h5.0 M38.5 157.22h2.7 M38.5 146.40h5.0 M38.5 135.57h2.7 M38.5 124.75h5.0 M38.5 113.92h2.7 M38.50 277.75v-5.0 M54.08 277.75v-2.7 M69.65 277.75v-5.0 M85.22 277.75v-2.7 M100.80 277.75v-5.0 M116.38 277.75v-2.7 M131.95 277.75v-5.0 M147.53 277.75v-2.7 M163.10 277.75v-5.0 M178.68 277.75v-2.7 M194.25 277.75v-5.0 M209.82 277.75v-2.7 M225.40 277.75v-5.0 M240.97 277.75v-2.7 M256.55 277.75v-5.0 M272.12 277.75v-2.7 M287.70 277.75v-5.0 M38.5 275.65h5.0 M38.5 264.82h2.7 M38.5 254.00h5.0 M38.5 243.17h2.7 M38.5 232.35h5.0 M38.5 221.52h2.7 M38.5 210.70h5.0 M38.5 199.88h2.7 M38.50 363.6v-5.0 M54.08 363.6v-2.7 M69.65 363.6v-5.0 M85.22 363.6v-2.7 M100.80 363.6v-5.0 M116.38 363.6v-2.7 M131.95 363.6v-5.0 M147.53 363.6v-2.7 M163.10 363.6v-5.0 M178.68 363.6v-2.7 M194.25 363.6v-5.0 M209.82 363.6v-2.7 M225.40 363.6v-5.0 M240.97 363.6v-2.7 M256.55 363.6v-5.0 M272.12 363.6v-2.7 M287.70 363.6v-5.0 M38.5 361.60h5.0 M38.5 350.78h2.7 M38.5 339.95h5.0 M38.5 329.12h2.7 M38.5 318.30h5.0 M38.5 307.48h2.7 M38.5 296.65h5.0 M38.5 285.83h2.7" stroke="#1c1c1c" stroke-width="1.1" fill="none"/>
<text x="38.50" y="377.1" text-anchor="middle" font-family='"Liberation Sans", Arial, Helvetica, sans-serif' font-weight="bold" font-size="10.2">20</text>
<text x="69.65" y="377.1" text-anchor="middle" font-family='"Liberation Sans", Arial, Helvetica, sans-serif' font-weight="bold" font-size="10.2">25</text>
<text x="100.80" y="377.1" text-anchor="middle" font-family='"Liberation Sans", Arial, Helvetica, sans-serif' font-weight="bold" font-size="10.2">30</text>
<text x="131.95" y="377.1" text-anchor="middle" font-family='"Liberation Sans", Arial, Helvetica, sans-serif' font-weight="bold" font-size="10.2">35</text>
<text x="163.10" y="377.1" text-anchor="middle" font-family='"Liberation Sans", Arial, Helvetica, sans-serif' font-weight="bold" font-size="10.2">40</text>
<text x="194.25" y="377.1" text-anchor="middle" font-family='"Liberation Sans", Arial, Helvetica, sans-serif' font-weight="bold" font-size="10.2">45</text>
<text x="225.40" y="377.1" text-anchor="middle" font-family='"Liberation Sans", Arial, Helvetica, sans-serif' font-weight="bold" font-size="10.2">50</text>
<text x="256.55" y="377.1" text-anchor="middle" font-family='"Liberation Sans", Arial, Helvetica, sans-serif' font-weight="bold" font-size="10.2">55</text>
<text x="287.70" y="377.1" text-anchor="middle" font-family='"Liberation Sans", Arial, Helvetica, sans-serif' font-weight="bold" font-size="10.2">60</text>
<rect x="347.6" y="19.5" width="249.50" height="342.90" fill="none" stroke="#1c1c1c" stroke-width="1.3"/>
<line x1="347.6" y1="105.2" x2="597.1" y2="105.2" stroke="#1c1c1c" stroke-width="1.3"/>
<line x1="347.6" y1="190.8" x2="597.1" y2="190.8" stroke="#1c1c1c" stroke-width="1.3"/>
<line x1="347.6" y1="276.3" x2="597.1" y2="276.3" stroke="#1c1c1c" stroke-width="1.3"/>
<text x="342.2" y="100.05" text-anchor="end" font-family='"Liberation Sans", Arial, Helvetica, sans-serif' font-weight="bold" font-size="10.1">41</text>
<text x="342.2" y="78.75" text-anchor="end" font-family='"Liberation Sans", Arial, Helvetica, sans-serif' font-weight="bold" font-size="10.1">82</text>
<text x="342.2" y="57.45" text-anchor="end" font-family='"Liberation Sans", Arial, Helvetica, sans-serif' font-weight="bold" font-size="10.1">123</text>
<text x="342.2" y="36.15" text-anchor="end" font-family='"Liberation Sans", Arial, Helvetica, sans-serif' font-weight="bold" font-size="10.1">164</text>
<text x="342.2" y="185.65" text-anchor="end" font-family='"Liberation Sans", Arial, Helvetica, sans-serif' font-weight="bold" font-size="10.1">41</text>
<text x="342.2" y="164.35" text-anchor="end" font-family='"Liberation Sans", Arial, Helvetica, sans-serif' font-weight="bold" font-size="10.1">82</text>
<text x="342.2" y="143.05" text-anchor="end" font-family='"Liberation Sans", Arial, Helvetica, sans-serif' font-weight="bold" font-size="10.1">123</text>
<text x="342.2" y="121.75" text-anchor="end" font-family='"Liberation Sans", Arial, Helvetica, sans-serif' font-weight="bold" font-size="10.1">164</text>
<text x="342.2" y="271.15" text-anchor="end" font-family='"Liberation Sans", Arial, Helvetica, sans-serif' font-weight="bold" font-size="10.1">41</text>
<text x="342.2" y="249.85" text-anchor="end" font-family='"Liberation Sans", Arial, Helvetica, sans-serif' font-weight="bold" font-size="10.1">82</text>
<text x="342.2" y="228.55" text-anchor="end" font-family='"Liberation Sans", Arial, Helvetica, sans-serif' font-weight="bold" font-size="10.1">123</text>
<text x="342.2" y="207.25" text-anchor="end" font-family='"Liberation Sans", Arial, Helvetica, sans-serif' font-weight="bold" font-size="10.1">164</text>
<text x="342.2" y="357.25" text-anchor="end" font-family='"Liberation Sans", Arial, Helvetica, sans-serif' font-weight="bold" font-size="10.1">41</text>
<text x="342.2" y="335.95" text-anchor="end" font-family='"Liberation Sans", Arial, Helvetica, sans-serif' font-weight="bold" font-size="10.1">82</text>
<text x="342.2" y="314.65" text-anchor="end" font-family='"Liberation Sans", Arial, Helvetica, sans-serif' font-weight="bold" font-size="10.1">123</text>
<text x="342.2" y="293.35" text-anchor="end" font-family='"Liberation Sans", Arial, Helvetica, sans-serif' font-weight="bold" font-size="10.1">164</text>
<path d="M347.60 105.2v-5.0 M363.19 105.2v-2.7 M378.79 105.2v-5.0 M394.38 105.2v-2.7 M409.98 105.2v-5.0 M425.57 105.2v-2.7 M441.16 105.2v-5.0 M456.76 105.2v-2.7 M472.35 105.2v-5.0 M487.94 105.2v-2.7 M503.54 105.2v-5.0 M519.13 105.2v-2.7 M534.73 105.2v-5.0 M550.32 105.2v-2.7 M565.91 105.2v-5.0 M581.51 105.2v-2.7 M597.10 105.2v-5.0 M347.6 96.95h5.0 M347.6 86.30h2.7 M347.6 75.65h5.0 M347.6 65.00h2.7 M347.6 54.35h5.0 M347.6 43.70h2.7 M347.6 33.05h5.0 M347.6 22.40h2.7 M347.60 190.8v-5.0 M363.19 190.8v-2.7 M378.79 190.8v-5.0 M394.38 190.8v-2.7 M409.98 190.8v-5.0 M425.57 190.8v-2.7 M441.16 190.8v-5.0 M456.76 190.8v-2.7 M472.35 190.8v-5.0 M487.94 190.8v-2.7 M503.54 190.8v-5.0 M519.13 190.8v-2.7 M534.73 190.8v-5.0 M550.32 190.8v-2.7 M565.91 190.8v-5.0 M581.51 190.8v-2.7 M597.10 190.8v-5.0 M347.6 182.55h5.0 M347.6 171.90h2.7 M347.6 161.25h5.0 M347.6 150.60h2.7 M347.6 139.95h5.0 M347.6 129.30h2.7 M347.6 118.65h5.0 M347.6 108.00h2.7 M347.60 276.3v-5.0 M363.19 276.3v-2.7 M378.79 276.3v-5.0 M394.38 276.3v-2.7 M409.98 276.3v-5.0 M425.57 276.3v-2.7 M441.16 276.3v-5.0 M456.76 276.3v-2.7 M472.35 276.3v-5.0 M487.94 276.3v-2.7 M503.54 276.3v-5.0 M519.13 276.3v-2.7 M534.73 276.3v-5.0 M550.32 276.3v-2.7 M565.91 276.3v-5.0 M581.51 276.3v-2.7 M597.10 276.3v-5.0 M347.6 268.05h5.0 M347.6 257.40h2.7 M347.6 246.75h5.0 M347.6 236.10h2.7 M347.6 225.45h5.0 M347.6 214.80h2.7 M347.6 204.15h5.0 M347.6 193.50h2.7 M347.60 362.4v-5.0 M363.19 362.4v-2.7 M378.79 362.4v-5.0 M394.38 362.4v-2.7 M409.98 362.4v-5.0 M425.57 362.4v-2.7 M441.16 362.4v-5.0 M456.76 362.4v-2.7 M472.35 362.4v-5.0 M487.94 362.4v-2.7 M503.54 362.4v-5.0 M519.13 362.4v-2.7 M534.73 362.4v-5.0 M550.32 362.4v-2.7 M565.91 362.4v-5.0 M581.51 362.4v-2.7 M597.10 362.4v-5.0 M347.6 354.15h5.0 M347.6 343.50h2.7 M347.6 332.85h5.0 M347.6 322.20h2.7 M347.6 311.55h5.0 M347.6 300.90h2.7 M347.6 290.25h5.0 M347.6 279.60h2.7" stroke="#1c1c1c" stroke-width="1.1" fill="none"/>
<text x="347.60" y="376.4" text-anchor="middle" font-family='"Liberation Sans", Arial, Helvetica, sans-serif' font-weight="bold" font-size="10.2">20</text>
<text x="378.79" y="376.4" text-anchor="middle" font-family='"Liberation Sans", Arial, Helvetica, sans-serif' font-weight="bold" font-size="10.2">25</text>
<text x="409.98" y="376.4" text-anchor="middle" font-family='"Liberation Sans", Arial, Helvetica, sans-serif' font-weight="bold" font-size="10.2">30</text>
<text x="441.16" y="376.4" text-anchor="middle" font-family='"Liberation Sans", Arial, Helvetica, sans-serif' font-weight="bold" font-size="10.2">35</text>
<text x="472.35" y="376.4" text-anchor="middle" font-family='"Liberation Sans", Arial, Helvetica, sans-serif' font-weight="bold" font-size="10.2">40</text>
<text x="503.54" y="376.4" text-anchor="middle" font-family='"Liberation Sans", Arial, Helvetica, sans-serif' font-weight="bold" font-size="10.2">45</text>
<text x="534.73" y="376.4" text-anchor="middle" font-family='"Liberation Sans", Arial, Helvetica, sans-serif' font-weight="bold" font-size="10.2">50</text>
<text x="565.91" y="376.4" text-anchor="middle" font-family='"Liberation Sans", Arial, Helvetica, sans-serif' font-weight="bold" font-size="10.2">55</text>
<text x="597.10" y="376.4" text-anchor="middle" font-family='"Liberation Sans", Arial, Helvetica, sans-serif' font-weight="bold" font-size="10.2">60</text>
<rect x="183.4" y="23.9" width="102.60" height="15.50" fill="#fff" stroke="#8a8a8a" stroke-width="0.9"/>
<line x1="191.8" y1="31.95" x2="221" y2="31.95" stroke="#111" stroke-width="1.1"/>
<text x="224.2" y="36.55" font-family='"Liberation Sans", Arial, Helvetica, sans-serif' font-size="12.8" fill="#111">0.00625M</text>
<rect x="190.5" y="110.3" width="93.80" height="15.20" fill="#fff" stroke="#8a8a8a" stroke-width="0.9"/>
<line x1="198" y1="118.20" x2="228" y2="118.20" stroke="#111" stroke-width="1.1"/>
<text x="230.5" y="122.80" font-family='"Liberation Sans", Arial, Helvetica, sans-serif' font-size="12.8" fill="#111">0.0125M</text>
<rect x="199.6" y="197.9" width="85.20" height="14.70" fill="#fff" stroke="#8a8a8a" stroke-width="0.9"/>
<line x1="206" y1="205.55" x2="236" y2="205.55" stroke="#111" stroke-width="1.1"/>
<text x="238.5" y="210.15" font-family='"Liberation Sans", Arial, Helvetica, sans-serif' font-size="12.8" fill="#111">0.025M</text>
<rect x="206.3" y="281.7" width="78.50" height="15.10" fill="#fff" stroke="#8a8a8a" stroke-width="0.9"/>
<line x1="213" y1="289.55" x2="243" y2="289.55" stroke="#111" stroke-width="1.1"/>
<text x="245.5" y="294.15" font-family='"Liberation Sans", Arial, Helvetica, sans-serif' font-size="12.8" fill="#111">0.05M</text>
<rect x="491.5" y="23.0" width="104.00" height="14.20" fill="#fff" stroke="#8a8a8a" stroke-width="0.9"/>
<line x1="499" y1="30.40" x2="528" y2="30.40" stroke="#111" stroke-width="1.1"/>
<text x="530.5" y="35.00" font-family='"Liberation Sans", Arial, Helvetica, sans-serif' font-size="12.8" fill="#111">0.00625 M</text>
<rect x="499.4" y="107.8" width="96.10" height="15.20" fill="#fff" stroke="#8a8a8a" stroke-width="0.9"/>
<line x1="506" y1="115.70" x2="536" y2="115.70" stroke="#111" stroke-width="1.1"/>
<text x="538.5" y="120.30" font-family='"Liberation Sans", Arial, Helvetica, sans-serif' font-size="12.8" fill="#111">0.0125 M</text>
<rect x="507.3" y="194.5" width="88.20" height="15.40" fill="#fff" stroke="#8a8a8a" stroke-width="0.9"/>
<line x1="514" y1="202.50" x2="543" y2="202.50" stroke="#111" stroke-width="1.1"/>
<text x="545.5" y="207.10" font-family='"Liberation Sans", Arial, Helvetica, sans-serif' font-size="12.8" fill="#111">0.025 M</text>
<rect x="516.3" y="279.4" width="79.20" height="15.10" fill="#fff" stroke="#8a8a8a" stroke-width="0.9"/>
<line x1="523" y1="287.25" x2="552" y2="287.25" stroke="#111" stroke-width="1.1"/>
<text x="553.5" y="291.85" font-family='"Liberation Sans", Arial, Helvetica, sans-serif' font-size="12.8" fill="#111">0.05 M</text>
<text x="284.5" y="55.9" text-anchor="end" font-family='"Liberation Sans", Arial, Helvetica, sans-serif' font-size="12.8" fill="#111">As deposited</text>
<text x="593.2" y="56.0" text-anchor="end" font-family='"Liberation Sans", Arial, Helvetica, sans-serif' font-size="12.8" fill="#111">Annealed at 573K</text>
<text x="592.8" y="69.5" text-anchor="end" font-family='"Liberation Sans", Arial, Helvetica, sans-serif' font-size="12.8" fill="#111">No. of cycles: 100</text>
<text x="77.5" y="215.4" text-anchor="middle" font-family='"Liberation Sans", Arial, Helvetica, sans-serif' font-weight="bold" font-size="12.5" fill="#111">110</text>
<text x="122.7" y="226.4" text-anchor="middle" font-family='"Liberation Sans", Arial, Helvetica, sans-serif' font-weight="bold" font-size="12.5" fill="#111">101</text>
<text x="147.7" y="232.0" text-anchor="middle" font-family='"Liberation Sans", Arial, Helvetica, sans-serif' font-weight="bold" font-size="12.5" fill="#111">200</text>
<text x="178.1" y="233.6" text-anchor="middle" font-family='"Liberation Sans", Arial, Helvetica, sans-serif' font-weight="bold" font-size="12.5" fill="#111">210</text>
<text x="234.6" y="246.7" text-anchor="middle" font-family='"Liberation Sans", Arial, Helvetica, sans-serif' font-weight="bold" font-size="12.5" fill="#111">211</text>
<text x="388.9" y="303.3" text-anchor="middle" font-family='"Liberation Sans", Arial, Helvetica, sans-serif' font-weight="bold" font-size="12.5" fill="#111">110</text>
<text x="433.3" y="328.2" text-anchor="middle" font-family='"Liberation Sans", Arial, Helvetica, sans-serif' font-weight="bold" font-size="12.5" fill="#111">101</text>
<text x="457.2" y="333.9" text-anchor="middle" font-family='"Liberation Sans", Arial, Helvetica, sans-serif' font-weight="bold" font-size="12.5" fill="#111">200</text>
<text x="486.3" y="339.1" text-anchor="middle" font-family='"Liberation Sans", Arial, Helvetica, sans-serif' font-weight="bold" font-size="12.5" fill="#111">210</text>
<text x="544.6" y="342.9" text-anchor="middle" font-family='"Liberation Sans", Arial, Helvetica, sans-serif' font-weight="bold" font-size="12.5" fill="#111">211</text>
<text x="153.6" y="395.0" text-anchor="middle" font-family='"Liberation Sans", Arial, Helvetica, sans-serif' font-weight="bold" font-size="13" fill="#111">2<tspan font-family='"Liberation Serif", "Times New Roman", serif' font-weight="bold" font-size="13.5">θ</tspan> (degree)</text>
<text x="474.4" y="395.0" text-anchor="middle" font-family='"Liberation Sans", Arial, Helvetica, sans-serif' font-weight="bold" font-size="13" fill="#111">2<tspan font-family='"Liberation Serif", "Times New Roman", serif' font-weight="bold" font-size="13.5">θ</tspan> (degree)</text>
<text transform="translate(9.3,178.5) rotate(-90)" text-anchor="middle" font-family='"Liberation Sans", Arial, Helvetica, sans-serif' font-weight="bold" font-size="13" fill="#111">Intensity (a.u)</text>
<text transform="translate(317.8,176.4) rotate(-90)" text-anchor="middle" font-family='"Liberation Sans", Arial, Helvetica, sans-serif' font-weight="bold" font-size="13" fill="#111">Intensity (a.u)</text>
<text x="263" y="8.8" text-anchor="middle" font-family='"Liberation Serif", "Times New Roman", serif' font-weight="bold" font-size="13.6" fill="#111">(a)</text>
<text x="575" y="8.8" text-anchor="middle" font-family='"Liberation Serif", "Times New Roman", serif' font-weight="bold" font-size="13.6" fill="#111">(b)</text>
</svg>
</body></html>
